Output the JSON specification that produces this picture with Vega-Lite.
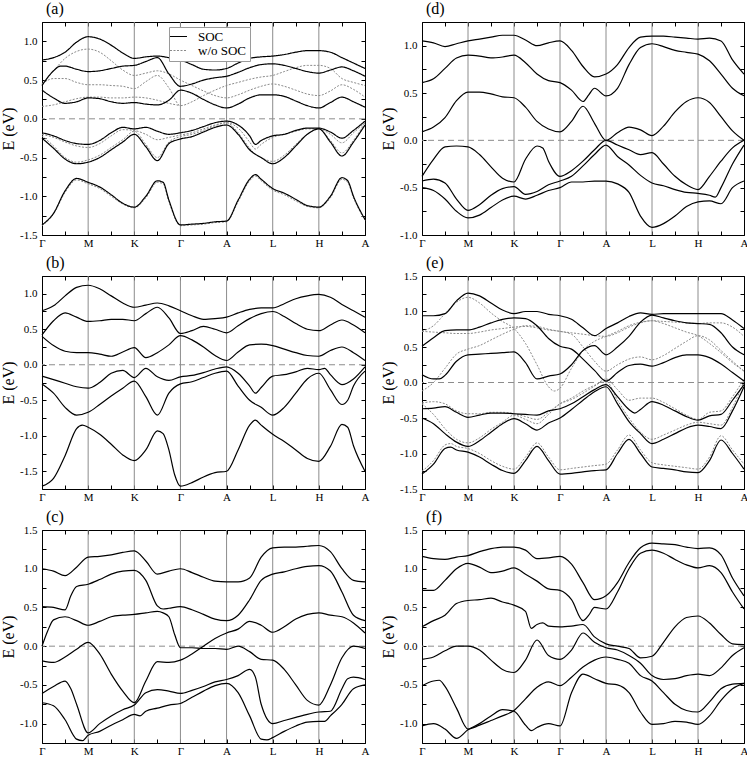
{
"$schema":"https://vega.github.io/schema/vega-lite/v6.json",
"background":"white",
"padding":{"left":0,"top":0,"right":0,"bottom":0},
"config":{
 "font":"Liberation Serif",
 "view":{"stroke":"black","strokeWidth":1},
 "axis":{"domain":false,"grid":false,"tickColor":"black","tickSize":-4,"tickWidth":1,"labelFont":"Liberation Serif","labelFontSize":11,"labelColor":"black","labelPadding":9,"labelOverlap":false,"labelFlush":false,"titleFont":"Liberation Serif","titleFontSize":16,"titleFontWeight":"normal","titleColor":"black","titlePadding":3},
 "axisX":{"labelPadding":6},
 "title":{"font":"Liberation Serif","fontSize":16,"fontWeight":"normal","color":"black","anchor":"start","frame":"group","offset":-1,"dx":4},
 "line":{"clip":true}
},
"datasets":{
 "sym":[{"k":1},{"k":2},{"k":3},{"k":4},{"k":5},{"k":6}],
 "bands":[
{"p":"a","b":"a1","s":"SOC","k":0,"E":0.76},{"p":"a","b":"a1","s":"SOC","k":0.25,"E":0.79},{"p":"a","b":"a1","s":"SOC","k":0.5,"E":0.86},{"p":"a","b":"a1","s":"SOC","k":0.75,"E":0.99},{"p":"a","b":"a1","s":"SOC","k":1,"E":1.06},{"p":"a","b":"a1","s":"SOC","k":1.25,"E":1.03},{"p":"a","b":"a1","s":"SOC","k":1.5,"E":0.95},{"p":"a","b":"a1","s":"SOC","k":1.75,"E":0.85},{"p":"a","b":"a1","s":"SOC","k":2,"E":0.78},{"p":"a","b":"a1","s":"SOC","k":2.25,"E":0.8},{"p":"a","b":"a1","s":"SOC","k":2.5,"E":0.81},{"p":"a","b":"a1","s":"SOC","k":2.75,"E":0.79},{"p":"a","b":"a1","s":"SOC","k":3,"E":0.76},{"p":"a","b":"a1","s":"SOC","k":3.25,"E":0.7},{"p":"a","b":"a1","s":"SOC","k":3.5,"E":0.64},{"p":"a","b":"a1","s":"SOC","k":3.75,"E":0.63},{"p":"a","b":"a1","s":"SOC","k":4,"E":0.65},{"p":"a","b":"a1","s":"SOC","k":4.25,"E":0.72},{"p":"a","b":"a1","s":"SOC","k":4.5,"E":0.78},{"p":"a","b":"a1","s":"SOC","k":4.75,"E":0.8},{"p":"a","b":"a1","s":"SOC","k":5,"E":0.81},{"p":"a","b":"a1","s":"SOC","k":5.25,"E":0.83},{"p":"a","b":"a1","s":"SOC","k":5.5,"E":0.86},{"p":"a","b":"a1","s":"SOC","k":5.75,"E":0.88},{"p":"a","b":"a1","s":"SOC","k":6,"E":0.88},{"p":"a","b":"a1","s":"SOC","k":6.25,"E":0.86},{"p":"a","b":"a1","s":"SOC","k":6.5,"E":0.79},{"p":"a","b":"a1","s":"SOC","k":6.75,"E":0.72},{"p":"a","b":"a1","s":"SOC","k":7,"E":0.65},
{"p":"a","b":"a2","s":"SOC","k":0,"E":0.43},{"p":"a","b":"a2","s":"SOC","k":0.25,"E":0.62},{"p":"a","b":"a2","s":"SOC","k":0.4,"E":0.68},{"p":"a","b":"a2","s":"SOC","k":0.5,"E":0.68},{"p":"a","b":"a2","s":"SOC","k":0.75,"E":0.64},{"p":"a","b":"a2","s":"SOC","k":1,"E":0.61},{"p":"a","b":"a2","s":"SOC","k":1.25,"E":0.62},{"p":"a","b":"a2","s":"SOC","k":1.5,"E":0.65},{"p":"a","b":"a2","s":"SOC","k":1.75,"E":0.68},{"p":"a","b":"a2","s":"SOC","k":2,"E":0.69},{"p":"a","b":"a2","s":"SOC","k":2.25,"E":0.74},{"p":"a","b":"a2","s":"SOC","k":2.5,"E":0.79},{"p":"a","b":"a2","s":"SOC","k":2.75,"E":0.58},{"p":"a","b":"a2","s":"SOC","k":3,"E":0.42},{"p":"a","b":"a2","s":"SOC","k":3.25,"E":0.45},{"p":"a","b":"a2","s":"SOC","k":3.5,"E":0.5},{"p":"a","b":"a2","s":"SOC","k":3.75,"E":0.53},{"p":"a","b":"a2","s":"SOC","k":4,"E":0.55},{"p":"a","b":"a2","s":"SOC","k":4.25,"E":0.6},{"p":"a","b":"a2","s":"SOC","k":4.5,"E":0.66},{"p":"a","b":"a2","s":"SOC","k":4.75,"E":0.7},{"p":"a","b":"a2","s":"SOC","k":5,"E":0.71},{"p":"a","b":"a2","s":"SOC","k":5.25,"E":0.69},{"p":"a","b":"a2","s":"SOC","k":5.5,"E":0.65},{"p":"a","b":"a2","s":"SOC","k":5.75,"E":0.61},{"p":"a","b":"a2","s":"SOC","k":6,"E":0.59},{"p":"a","b":"a2","s":"SOC","k":6.25,"E":0.63},{"p":"a","b":"a2","s":"SOC","k":6.5,"E":0.67},{"p":"a","b":"a2","s":"SOC","k":6.75,"E":0.62},{"p":"a","b":"a2","s":"SOC","k":7,"E":0.55},
{"p":"a","b":"a3","s":"SOC","k":0,"E":0.37},{"p":"a","b":"a3","s":"SOC","k":0.25,"E":0.27},{"p":"a","b":"a3","s":"SOC","k":0.5,"E":0.2},{"p":"a","b":"a3","s":"SOC","k":0.75,"E":0.22},{"p":"a","b":"a3","s":"SOC","k":1,"E":0.27},{"p":"a","b":"a3","s":"SOC","k":1.25,"E":0.26},{"p":"a","b":"a3","s":"SOC","k":1.5,"E":0.22},{"p":"a","b":"a3","s":"SOC","k":1.75,"E":0.2},{"p":"a","b":"a3","s":"SOC","k":2,"E":0.21},{"p":"a","b":"a3","s":"SOC","k":2.25,"E":0.19},{"p":"a","b":"a3","s":"SOC","k":2.5,"E":0.18},{"p":"a","b":"a3","s":"SOC","k":2.75,"E":0.24},{"p":"a","b":"a3","s":"SOC","k":3,"E":0.37},{"p":"a","b":"a3","s":"SOC","k":3.25,"E":0.33},{"p":"a","b":"a3","s":"SOC","k":3.5,"E":0.25},{"p":"a","b":"a3","s":"SOC","k":3.75,"E":0.18},{"p":"a","b":"a3","s":"SOC","k":4,"E":0.14},{"p":"a","b":"a3","s":"SOC","k":4.25,"E":0.19},{"p":"a","b":"a3","s":"SOC","k":4.5,"E":0.27},{"p":"a","b":"a3","s":"SOC","k":4.75,"E":0.31},{"p":"a","b":"a3","s":"SOC","k":5,"E":0.31},{"p":"a","b":"a3","s":"SOC","k":5.25,"E":0.29},{"p":"a","b":"a3","s":"SOC","k":5.5,"E":0.23},{"p":"a","b":"a3","s":"SOC","k":5.75,"E":0.17},{"p":"a","b":"a3","s":"SOC","k":6,"E":0.14},{"p":"a","b":"a3","s":"SOC","k":6.25,"E":0.21},{"p":"a","b":"a3","s":"SOC","k":6.5,"E":0.28},{"p":"a","b":"a3","s":"SOC","k":6.75,"E":0.22},{"p":"a","b":"a3","s":"SOC","k":7,"E":0.15},
{"p":"a","b":"a4","s":"SOC","k":0,"E":-0.18},{"p":"a","b":"a4","s":"SOC","k":0.25,"E":-0.22},{"p":"a","b":"a4","s":"SOC","k":0.5,"E":-0.28},{"p":"a","b":"a4","s":"SOC","k":0.75,"E":-0.32},{"p":"a","b":"a4","s":"SOC","k":1,"E":-0.33},{"p":"a","b":"a4","s":"SOC","k":1.25,"E":-0.28},{"p":"a","b":"a4","s":"SOC","k":1.5,"E":-0.18},{"p":"a","b":"a4","s":"SOC","k":1.75,"E":-0.11},{"p":"a","b":"a4","s":"SOC","k":2,"E":-0.13},{"p":"a","b":"a4","s":"SOC","k":2.25,"E":-0.11},{"p":"a","b":"a4","s":"SOC","k":2.5,"E":-0.16},{"p":"a","b":"a4","s":"SOC","k":2.75,"E":-0.2},{"p":"a","b":"a4","s":"SOC","k":3,"E":-0.18},{"p":"a","b":"a4","s":"SOC","k":3.25,"E":-0.15},{"p":"a","b":"a4","s":"SOC","k":3.5,"E":-0.1},{"p":"a","b":"a4","s":"SOC","k":3.75,"E":-0.05},{"p":"a","b":"a4","s":"SOC","k":4,"E":-0.03},{"p":"a","b":"a4","s":"SOC","k":4.25,"E":-0.08},{"p":"a","b":"a4","s":"SOC","k":4.5,"E":-0.22},{"p":"a","b":"a4","s":"SOC","k":4.625,"E":-0.33},{"p":"a","b":"a4","s":"SOC","k":4.75,"E":-0.28},{"p":"a","b":"a4","s":"SOC","k":5,"E":-0.22},{"p":"a","b":"a4","s":"SOC","k":5.25,"E":-0.2},{"p":"a","b":"a4","s":"SOC","k":5.5,"E":-0.15},{"p":"a","b":"a4","s":"SOC","k":5.75,"E":-0.12},{"p":"a","b":"a4","s":"SOC","k":6,"E":-0.12},{"p":"a","b":"a4","s":"SOC","k":6.25,"E":-0.17},{"p":"a","b":"a4","s":"SOC","k":6.5,"E":-0.25},{"p":"a","b":"a4","s":"SOC","k":6.75,"E":-0.15},{"p":"a","b":"a4","s":"SOC","k":7,"E":-0.03},
{"p":"a","b":"a5","s":"SOC","k":0,"E":-0.25},{"p":"a","b":"a5","s":"SOC","k":0.25,"E":-0.38},{"p":"a","b":"a5","s":"SOC","k":0.5,"E":-0.52},{"p":"a","b":"a5","s":"SOC","k":0.75,"E":-0.58},{"p":"a","b":"a5","s":"SOC","k":1,"E":-0.56},{"p":"a","b":"a5","s":"SOC","k":1.25,"E":-0.5},{"p":"a","b":"a5","s":"SOC","k":1.5,"E":-0.4},{"p":"a","b":"a5","s":"SOC","k":1.75,"E":-0.3},{"p":"a","b":"a5","s":"SOC","k":2,"E":-0.2},{"p":"a","b":"a5","s":"SOC","k":2.25,"E":-0.36},{"p":"a","b":"a5","s":"SOC","k":2.5,"E":-0.54},{"p":"a","b":"a5","s":"SOC","k":2.75,"E":-0.32},{"p":"a","b":"a5","s":"SOC","k":3,"E":-0.26},{"p":"a","b":"a5","s":"SOC","k":3.25,"E":-0.23},{"p":"a","b":"a5","s":"SOC","k":3.5,"E":-0.17},{"p":"a","b":"a5","s":"SOC","k":3.75,"E":-0.11},{"p":"a","b":"a5","s":"SOC","k":4,"E":-0.08},{"p":"a","b":"a5","s":"SOC","k":4.25,"E":-0.2},{"p":"a","b":"a5","s":"SOC","k":4.5,"E":-0.4},{"p":"a","b":"a5","s":"SOC","k":4.75,"E":-0.5},{"p":"a","b":"a5","s":"SOC","k":5,"E":-0.58},{"p":"a","b":"a5","s":"SOC","k":5.25,"E":-0.5},{"p":"a","b":"a5","s":"SOC","k":5.5,"E":-0.35},{"p":"a","b":"a5","s":"SOC","k":5.75,"E":-0.2},{"p":"a","b":"a5","s":"SOC","k":6,"E":-0.13},{"p":"a","b":"a5","s":"SOC","k":6.25,"E":-0.3},{"p":"a","b":"a5","s":"SOC","k":6.5,"E":-0.48},{"p":"a","b":"a5","s":"SOC","k":6.75,"E":-0.3},{"p":"a","b":"a5","s":"SOC","k":7,"E":-0.08},
{"p":"a","b":"a6","s":"SOC","k":0,"E":-1.37},{"p":"a","b":"a6","s":"SOC","k":0.25,"E":-1.22},{"p":"a","b":"a6","s":"SOC","k":0.5,"E":-0.93},{"p":"a","b":"a6","s":"SOC","k":0.75,"E":-0.77},{"p":"a","b":"a6","s":"SOC","k":1,"E":-0.82},{"p":"a","b":"a6","s":"SOC","k":1.25,"E":-0.88},{"p":"a","b":"a6","s":"SOC","k":1.5,"E":-0.98},{"p":"a","b":"a6","s":"SOC","k":1.75,"E":-1.09},{"p":"a","b":"a6","s":"SOC","k":2,"E":-1.14},{"p":"a","b":"a6","s":"SOC","k":2.25,"E":-1.0},{"p":"a","b":"a6","s":"SOC","k":2.5,"E":-0.8},{"p":"a","b":"a6","s":"SOC","k":2.625,"E":-0.82},{"p":"a","b":"a6","s":"SOC","k":2.75,"E":-1.05},{"p":"a","b":"a6","s":"SOC","k":3,"E":-1.37},{"p":"a","b":"a6","s":"SOC","k":3.25,"E":-1.36},{"p":"a","b":"a6","s":"SOC","k":3.5,"E":-1.35},{"p":"a","b":"a6","s":"SOC","k":3.75,"E":-1.33},{"p":"a","b":"a6","s":"SOC","k":4,"E":-1.32},{"p":"a","b":"a6","s":"SOC","k":4.25,"E":-1.05},{"p":"a","b":"a6","s":"SOC","k":4.5,"E":-0.78},{"p":"a","b":"a6","s":"SOC","k":4.625,"E":-0.72},{"p":"a","b":"a6","s":"SOC","k":4.75,"E":-0.78},{"p":"a","b":"a6","s":"SOC","k":5,"E":-0.9},{"p":"a","b":"a6","s":"SOC","k":5.25,"E":-0.96},{"p":"a","b":"a6","s":"SOC","k":5.5,"E":-1.04},{"p":"a","b":"a6","s":"SOC","k":5.75,"E":-1.12},{"p":"a","b":"a6","s":"SOC","k":6,"E":-1.14},{"p":"a","b":"a6","s":"SOC","k":6.25,"E":-1.0},{"p":"a","b":"a6","s":"SOC","k":6.5,"E":-0.76},{"p":"a","b":"a6","s":"SOC","k":6.625,"E":-0.8},{"p":"a","b":"a6","s":"SOC","k":6.75,"E":-1.0},{"p":"a","b":"a6","s":"SOC","k":7,"E":-1.3},
{"p":"a","b":"ad1","s":"w/o SOC","k":0,"E":0.45},{"p":"a","b":"ad1","s":"w/o SOC","k":0.25,"E":0.62},{"p":"a","b":"ad1","s":"w/o SOC","k":0.5,"E":0.78},{"p":"a","b":"ad1","s":"w/o SOC","k":0.75,"E":0.87},{"p":"a","b":"ad1","s":"w/o SOC","k":1,"E":0.9},{"p":"a","b":"ad1","s":"w/o SOC","k":1.25,"E":0.86},{"p":"a","b":"ad1","s":"w/o SOC","k":1.5,"E":0.75},{"p":"a","b":"ad1","s":"w/o SOC","k":1.75,"E":0.63},{"p":"a","b":"ad1","s":"w/o SOC","k":2,"E":0.56},{"p":"a","b":"ad1","s":"w/o SOC","k":2.25,"E":0.59},{"p":"a","b":"ad1","s":"w/o SOC","k":2.5,"E":0.62},{"p":"a","b":"ad1","s":"w/o SOC","k":2.75,"E":0.58},{"p":"a","b":"ad1","s":"w/o SOC","k":3,"E":0.5},{"p":"a","b":"ad1","s":"w/o SOC","k":3.25,"E":0.43},{"p":"a","b":"ad1","s":"w/o SOC","k":3.5,"E":0.36},{"p":"a","b":"ad1","s":"w/o SOC","k":3.75,"E":0.3},{"p":"a","b":"ad1","s":"w/o SOC","k":4,"E":0.27},{"p":"a","b":"ad1","s":"w/o SOC","k":4.25,"E":0.31},{"p":"a","b":"ad1","s":"w/o SOC","k":4.5,"E":0.37},{"p":"a","b":"ad1","s":"w/o SOC","k":4.75,"E":0.42},{"p":"a","b":"ad1","s":"w/o SOC","k":5,"E":0.45},{"p":"a","b":"ad1","s":"w/o SOC","k":5.25,"E":0.42},{"p":"a","b":"ad1","s":"w/o SOC","k":5.5,"E":0.37},{"p":"a","b":"ad1","s":"w/o SOC","k":5.75,"E":0.32},{"p":"a","b":"ad1","s":"w/o SOC","k":6,"E":0.3},{"p":"a","b":"ad1","s":"w/o SOC","k":6.25,"E":0.36},{"p":"a","b":"ad1","s":"w/o SOC","k":6.5,"E":0.44},{"p":"a","b":"ad1","s":"w/o SOC","k":6.75,"E":0.38},{"p":"a","b":"ad1","s":"w/o SOC","k":7,"E":0.28},
{"p":"a","b":"ad2","s":"w/o SOC","k":0,"E":0.45},{"p":"a","b":"ad2","s":"w/o SOC","k":0.25,"E":0.52},{"p":"a","b":"ad2","s":"w/o SOC","k":0.5,"E":0.52},{"p":"a","b":"ad2","s":"w/o SOC","k":0.75,"E":0.47},{"p":"a","b":"ad2","s":"w/o SOC","k":1,"E":0.44},{"p":"a","b":"ad2","s":"w/o SOC","k":1.25,"E":0.44},{"p":"a","b":"ad2","s":"w/o SOC","k":1.5,"E":0.43},{"p":"a","b":"ad2","s":"w/o SOC","k":1.75,"E":0.42},{"p":"a","b":"ad2","s":"w/o SOC","k":2,"E":0.39},{"p":"a","b":"ad2","s":"w/o SOC","k":2.25,"E":0.48},{"p":"a","b":"ad2","s":"w/o SOC","k":2.5,"E":0.56},{"p":"a","b":"ad2","s":"w/o SOC","k":2.75,"E":0.4},{"p":"a","b":"ad2","s":"w/o SOC","k":3,"E":0.17},{"p":"a","b":"ad2","s":"w/o SOC","k":3.25,"E":0.22},{"p":"a","b":"ad2","s":"w/o SOC","k":3.5,"E":0.3},{"p":"a","b":"ad2","s":"w/o SOC","k":3.75,"E":0.37},{"p":"a","b":"ad2","s":"w/o SOC","k":4,"E":0.43},{"p":"a","b":"ad2","s":"w/o SOC","k":4.25,"E":0.47},{"p":"a","b":"ad2","s":"w/o SOC","k":4.5,"E":0.51},{"p":"a","b":"ad2","s":"w/o SOC","k":4.75,"E":0.54},{"p":"a","b":"ad2","s":"w/o SOC","k":5,"E":0.56},{"p":"a","b":"ad2","s":"w/o SOC","k":5.25,"E":0.61},{"p":"a","b":"ad2","s":"w/o SOC","k":5.5,"E":0.66},{"p":"a","b":"ad2","s":"w/o SOC","k":5.75,"E":0.69},{"p":"a","b":"ad2","s":"w/o SOC","k":6,"E":0.69},{"p":"a","b":"ad2","s":"w/o SOC","k":6.25,"E":0.65},{"p":"a","b":"ad2","s":"w/o SOC","k":6.5,"E":0.52},{"p":"a","b":"ad2","s":"w/o SOC","k":6.75,"E":0.47},{"p":"a","b":"ad2","s":"w/o SOC","k":7,"E":0.43},
{"p":"a","b":"ad3","s":"w/o SOC","k":0,"E":0.16},{"p":"a","b":"ad3","s":"w/o SOC","k":0.25,"E":0.18},{"p":"a","b":"ad3","s":"w/o SOC","k":0.5,"E":0.22},{"p":"a","b":"ad3","s":"w/o SOC","k":0.75,"E":0.26},{"p":"a","b":"ad3","s":"w/o SOC","k":1,"E":0.28},{"p":"a","b":"ad3","s":"w/o SOC","k":1.25,"E":0.28},{"p":"a","b":"ad3","s":"w/o SOC","k":1.5,"E":0.27},{"p":"a","b":"ad3","s":"w/o SOC","k":1.75,"E":0.27},{"p":"a","b":"ad3","s":"w/o SOC","k":2,"E":0.28},{"p":"a","b":"ad3","s":"w/o SOC","k":2.25,"E":0.27},{"p":"a","b":"ad3","s":"w/o SOC","k":2.5,"E":0.24},{"p":"a","b":"ad3","s":"w/o SOC","k":2.75,"E":0.2},{"p":"a","b":"ad3","s":"w/o SOC","k":3,"E":0.17},
{"p":"a","b":"ad4","s":"w/o SOC","k":0,"E":-0.2},{"p":"a","b":"ad4","s":"w/o SOC","k":0.25,"E":-0.24},{"p":"a","b":"ad4","s":"w/o SOC","k":0.5,"E":-0.3},{"p":"a","b":"ad4","s":"w/o SOC","k":0.75,"E":-0.35},{"p":"a","b":"ad4","s":"w/o SOC","k":1,"E":-0.37},{"p":"a","b":"ad4","s":"w/o SOC","k":1.25,"E":-0.32},{"p":"a","b":"ad4","s":"w/o SOC","k":1.5,"E":-0.22},{"p":"a","b":"ad4","s":"w/o SOC","k":1.75,"E":-0.14},{"p":"a","b":"ad4","s":"w/o SOC","k":2,"E":-0.15},{"p":"a","b":"ad4","s":"w/o SOC","k":2.25,"E":-0.2},{"p":"a","b":"ad4","s":"w/o SOC","k":2.5,"E":-0.27},{"p":"a","b":"ad4","s":"w/o SOC","k":2.75,"E":-0.24},{"p":"a","b":"ad4","s":"w/o SOC","k":3,"E":-0.21},{"p":"a","b":"ad4","s":"w/o SOC","k":3.25,"E":-0.18},{"p":"a","b":"ad4","s":"w/o SOC","k":3.5,"E":-0.13},{"p":"a","b":"ad4","s":"w/o SOC","k":3.75,"E":-0.08},{"p":"a","b":"ad4","s":"w/o SOC","k":4,"E":-0.05},{"p":"a","b":"ad4","s":"w/o SOC","k":4.25,"E":-0.12},{"p":"a","b":"ad4","s":"w/o SOC","k":4.5,"E":-0.3},{"p":"a","b":"ad4","s":"w/o SOC","k":4.625,"E":-0.39},{"p":"a","b":"ad4","s":"w/o SOC","k":4.75,"E":-0.33},{"p":"a","b":"ad4","s":"w/o SOC","k":5,"E":-0.24},{"p":"a","b":"ad4","s":"w/o SOC","k":5.25,"E":-0.2},{"p":"a","b":"ad4","s":"w/o SOC","k":5.5,"E":-0.16},{"p":"a","b":"ad4","s":"w/o SOC","k":5.75,"E":-0.13},{"p":"a","b":"ad4","s":"w/o SOC","k":6,"E":-0.13},{"p":"a","b":"ad4","s":"w/o SOC","k":6.25,"E":-0.2},{"p":"a","b":"ad4","s":"w/o SOC","k":6.5,"E":-0.31},{"p":"a","b":"ad4","s":"w/o SOC","k":6.75,"E":-0.18},{"p":"a","b":"ad4","s":"w/o SOC","k":7,"E":-0.05},
{"p":"a","b":"ad5","s":"w/o SOC","k":0,"E":-0.22},{"p":"a","b":"ad5","s":"w/o SOC","k":0.25,"E":-0.35},{"p":"a","b":"ad5","s":"w/o SOC","k":0.5,"E":-0.5},{"p":"a","b":"ad5","s":"w/o SOC","k":0.75,"E":-0.56},{"p":"a","b":"ad5","s":"w/o SOC","k":1,"E":-0.53},{"p":"a","b":"ad5","s":"w/o SOC","k":1.25,"E":-0.47},{"p":"a","b":"ad5","s":"w/o SOC","k":1.5,"E":-0.37},{"p":"a","b":"ad5","s":"w/o SOC","k":1.75,"E":-0.27},{"p":"a","b":"ad5","s":"w/o SOC","k":2,"E":-0.16},{"p":"a","b":"ad5","s":"w/o SOC","k":2.25,"E":-0.33},{"p":"a","b":"ad5","s":"w/o SOC","k":2.5,"E":-0.5},{"p":"a","b":"ad5","s":"w/o SOC","k":2.75,"E":-0.3},{"p":"a","b":"ad5","s":"w/o SOC","k":3,"E":-0.23},{"p":"a","b":"ad5","s":"w/o SOC","k":3.25,"E":-0.2},{"p":"a","b":"ad5","s":"w/o SOC","k":3.5,"E":-0.15},{"p":"a","b":"ad5","s":"w/o SOC","k":3.75,"E":-0.09},{"p":"a","b":"ad5","s":"w/o SOC","k":4,"E":-0.05},{"p":"a","b":"ad5","s":"w/o SOC","k":4.25,"E":-0.18},{"p":"a","b":"ad5","s":"w/o SOC","k":4.5,"E":-0.38},{"p":"a","b":"ad5","s":"w/o SOC","k":4.625,"E":-0.46},{"p":"a","b":"ad5","s":"w/o SOC","k":4.75,"E":-0.5},{"p":"a","b":"ad5","s":"w/o SOC","k":5,"E":-0.55},{"p":"a","b":"ad5","s":"w/o SOC","k":5.25,"E":-0.47},{"p":"a","b":"ad5","s":"w/o SOC","k":5.5,"E":-0.33},{"p":"a","b":"ad5","s":"w/o SOC","k":5.75,"E":-0.2},{"p":"a","b":"ad5","s":"w/o SOC","k":6,"E":-0.13},{"p":"a","b":"ad5","s":"w/o SOC","k":6.25,"E":-0.28},{"p":"a","b":"ad5","s":"w/o SOC","k":6.5,"E":-0.44},{"p":"a","b":"ad5","s":"w/o SOC","k":6.75,"E":-0.28},{"p":"a","b":"ad5","s":"w/o SOC","k":7,"E":-0.05},
{"p":"a","b":"ad6","s":"w/o SOC","k":0,"E":-1.38},{"p":"a","b":"ad6","s":"w/o SOC","k":0.25,"E":-1.23},{"p":"a","b":"ad6","s":"w/o SOC","k":0.5,"E":-0.95},{"p":"a","b":"ad6","s":"w/o SOC","k":0.75,"E":-0.79},{"p":"a","b":"ad6","s":"w/o SOC","k":1,"E":-0.84},{"p":"a","b":"ad6","s":"w/o SOC","k":1.25,"E":-0.9},{"p":"a","b":"ad6","s":"w/o SOC","k":1.5,"E":-1.0},{"p":"a","b":"ad6","s":"w/o SOC","k":1.75,"E":-1.1},{"p":"a","b":"ad6","s":"w/o SOC","k":2,"E":-1.15},{"p":"a","b":"ad6","s":"w/o SOC","k":2.25,"E":-1.02},{"p":"a","b":"ad6","s":"w/o SOC","k":2.5,"E":-0.82},{"p":"a","b":"ad6","s":"w/o SOC","k":2.625,"E":-0.84},{"p":"a","b":"ad6","s":"w/o SOC","k":2.75,"E":-1.07},{"p":"a","b":"ad6","s":"w/o SOC","k":3,"E":-1.38},{"p":"a","b":"ad6","s":"w/o SOC","k":3.25,"E":-1.37},{"p":"a","b":"ad6","s":"w/o SOC","k":3.5,"E":-1.36},{"p":"a","b":"ad6","s":"w/o SOC","k":3.75,"E":-1.34},{"p":"a","b":"ad6","s":"w/o SOC","k":4,"E":-1.33},{"p":"a","b":"ad6","s":"w/o SOC","k":4.25,"E":-1.07},{"p":"a","b":"ad6","s":"w/o SOC","k":4.5,"E":-0.8},{"p":"a","b":"ad6","s":"w/o SOC","k":4.625,"E":-0.74},{"p":"a","b":"ad6","s":"w/o SOC","k":4.75,"E":-0.8},{"p":"a","b":"ad6","s":"w/o SOC","k":5,"E":-0.92},{"p":"a","b":"ad6","s":"w/o SOC","k":5.25,"E":-0.98},{"p":"a","b":"ad6","s":"w/o SOC","k":5.5,"E":-1.06},{"p":"a","b":"ad6","s":"w/o SOC","k":5.75,"E":-1.13},{"p":"a","b":"ad6","s":"w/o SOC","k":6,"E":-1.15},{"p":"a","b":"ad6","s":"w/o SOC","k":6.25,"E":-1.02},{"p":"a","b":"ad6","s":"w/o SOC","k":6.5,"E":-0.78},{"p":"a","b":"ad6","s":"w/o SOC","k":6.625,"E":-0.82},{"p":"a","b":"ad6","s":"w/o SOC","k":6.75,"E":-1.02},{"p":"a","b":"ad6","s":"w/o SOC","k":7,"E":-1.31},
{"p":"b","b":"b1","s":"SOC","k":0,"E":0.76},{"p":"b","b":"b1","s":"SOC","k":0.25,"E":0.83},{"p":"b","b":"b1","s":"SOC","k":0.5,"E":0.97},{"p":"b","b":"b1","s":"SOC","k":0.75,"E":1.09},{"p":"b","b":"b1","s":"SOC","k":1,"E":1.12},{"p":"b","b":"b1","s":"SOC","k":1.25,"E":1.07},{"p":"b","b":"b1","s":"SOC","k":1.5,"E":0.97},{"p":"b","b":"b1","s":"SOC","k":1.75,"E":0.87},{"p":"b","b":"b1","s":"SOC","k":2,"E":0.81},{"p":"b","b":"b1","s":"SOC","k":2.25,"E":0.84},{"p":"b","b":"b1","s":"SOC","k":2.5,"E":0.87},{"p":"b","b":"b1","s":"SOC","k":2.75,"E":0.83},{"p":"b","b":"b1","s":"SOC","k":3,"E":0.76},{"p":"b","b":"b1","s":"SOC","k":3.25,"E":0.69},{"p":"b","b":"b1","s":"SOC","k":3.5,"E":0.64},{"p":"b","b":"b1","s":"SOC","k":3.75,"E":0.65},{"p":"b","b":"b1","s":"SOC","k":4,"E":0.67},{"p":"b","b":"b1","s":"SOC","k":4.25,"E":0.73},{"p":"b","b":"b1","s":"SOC","k":4.5,"E":0.78},{"p":"b","b":"b1","s":"SOC","k":4.75,"E":0.8},{"p":"b","b":"b1","s":"SOC","k":5,"E":0.8},{"p":"b","b":"b1","s":"SOC","k":5.25,"E":0.86},{"p":"b","b":"b1","s":"SOC","k":5.5,"E":0.93},{"p":"b","b":"b1","s":"SOC","k":5.75,"E":0.97},{"p":"b","b":"b1","s":"SOC","k":6,"E":0.99},{"p":"b","b":"b1","s":"SOC","k":6.25,"E":0.95},{"p":"b","b":"b1","s":"SOC","k":6.5,"E":0.85},{"p":"b","b":"b1","s":"SOC","k":6.75,"E":0.76},{"p":"b","b":"b1","s":"SOC","k":7,"E":0.67},
{"p":"b","b":"b2","s":"SOC","k":0,"E":0.42},{"p":"b","b":"b2","s":"SOC","k":0.25,"E":0.62},{"p":"b","b":"b2","s":"SOC","k":0.5,"E":0.73},{"p":"b","b":"b2","s":"SOC","k":0.75,"E":0.67},{"p":"b","b":"b2","s":"SOC","k":1,"E":0.61},{"p":"b","b":"b2","s":"SOC","k":1.25,"E":0.62},{"p":"b","b":"b2","s":"SOC","k":1.5,"E":0.64},{"p":"b","b":"b2","s":"SOC","k":1.75,"E":0.64},{"p":"b","b":"b2","s":"SOC","k":2,"E":0.62},{"p":"b","b":"b2","s":"SOC","k":2.25,"E":0.72},{"p":"b","b":"b2","s":"SOC","k":2.5,"E":0.81},{"p":"b","b":"b2","s":"SOC","k":2.75,"E":0.66},{"p":"b","b":"b2","s":"SOC","k":3,"E":0.44},{"p":"b","b":"b2","s":"SOC","k":3.25,"E":0.48},{"p":"b","b":"b2","s":"SOC","k":3.5,"E":0.54},{"p":"b","b":"b2","s":"SOC","k":3.75,"E":0.5},{"p":"b","b":"b2","s":"SOC","k":4,"E":0.45},{"p":"b","b":"b2","s":"SOC","k":4.25,"E":0.55},{"p":"b","b":"b2","s":"SOC","k":4.5,"E":0.65},{"p":"b","b":"b2","s":"SOC","k":4.75,"E":0.72},{"p":"b","b":"b2","s":"SOC","k":5,"E":0.75},{"p":"b","b":"b2","s":"SOC","k":5.25,"E":0.68},{"p":"b","b":"b2","s":"SOC","k":5.5,"E":0.58},{"p":"b","b":"b2","s":"SOC","k":5.75,"E":0.5},{"p":"b","b":"b2","s":"SOC","k":6,"E":0.48},{"p":"b","b":"b2","s":"SOC","k":6.25,"E":0.56},{"p":"b","b":"b2","s":"SOC","k":6.5,"E":0.63},{"p":"b","b":"b2","s":"SOC","k":6.75,"E":0.56},{"p":"b","b":"b2","s":"SOC","k":7,"E":0.45},
{"p":"b","b":"b3","s":"SOC","k":0,"E":0.4},{"p":"b","b":"b3","s":"SOC","k":0.25,"E":0.27},{"p":"b","b":"b3","s":"SOC","k":0.5,"E":0.19},{"p":"b","b":"b3","s":"SOC","k":0.75,"E":0.17},{"p":"b","b":"b3","s":"SOC","k":1,"E":0.17},{"p":"b","b":"b3","s":"SOC","k":1.25,"E":0.15},{"p":"b","b":"b3","s":"SOC","k":1.5,"E":0.12},{"p":"b","b":"b3","s":"SOC","k":1.75,"E":0.18},{"p":"b","b":"b3","s":"SOC","k":2,"E":0.24},{"p":"b","b":"b3","s":"SOC","k":2.25,"E":0.1},{"p":"b","b":"b3","s":"SOC","k":2.5,"E":0.17},{"p":"b","b":"b3","s":"SOC","k":2.75,"E":0.28},{"p":"b","b":"b3","s":"SOC","k":3,"E":0.41},{"p":"b","b":"b3","s":"SOC","k":3.25,"E":0.35},{"p":"b","b":"b3","s":"SOC","k":3.5,"E":0.25},{"p":"b","b":"b3","s":"SOC","k":3.75,"E":0.13},{"p":"b","b":"b3","s":"SOC","k":4,"E":0.06},{"p":"b","b":"b3","s":"SOC","k":4.25,"E":0.18},{"p":"b","b":"b3","s":"SOC","k":4.5,"E":0.28},{"p":"b","b":"b3","s":"SOC","k":4.75,"E":0.29},{"p":"b","b":"b3","s":"SOC","k":5,"E":0.27},{"p":"b","b":"b3","s":"SOC","k":5.25,"E":0.22},{"p":"b","b":"b3","s":"SOC","k":5.5,"E":0.17},{"p":"b","b":"b3","s":"SOC","k":5.75,"E":0.13},{"p":"b","b":"b3","s":"SOC","k":6,"E":0.12},{"p":"b","b":"b3","s":"SOC","k":6.25,"E":0.2},{"p":"b","b":"b3","s":"SOC","k":6.5,"E":0.25},{"p":"b","b":"b3","s":"SOC","k":6.75,"E":0.17},{"p":"b","b":"b3","s":"SOC","k":7,"E":0.06},
{"p":"b","b":"b4","s":"SOC","k":0,"E":-0.16},{"p":"b","b":"b4","s":"SOC","k":0.25,"E":-0.21},{"p":"b","b":"b4","s":"SOC","k":0.5,"E":-0.26},{"p":"b","b":"b4","s":"SOC","k":0.75,"E":-0.31},{"p":"b","b":"b4","s":"SOC","k":1,"E":-0.33},{"p":"b","b":"b4","s":"SOC","k":1.25,"E":-0.25},{"p":"b","b":"b4","s":"SOC","k":1.5,"E":-0.12},{"p":"b","b":"b4","s":"SOC","k":1.75,"E":-0.08},{"p":"b","b":"b4","s":"SOC","k":2,"E":-0.18},{"p":"b","b":"b4","s":"SOC","k":2.25,"E":-0.05},{"p":"b","b":"b4","s":"SOC","k":2.5,"E":-0.17},{"p":"b","b":"b4","s":"SOC","k":2.75,"E":-0.22},{"p":"b","b":"b4","s":"SOC","k":3,"E":-0.17},{"p":"b","b":"b4","s":"SOC","k":3.25,"E":-0.15},{"p":"b","b":"b4","s":"SOC","k":3.5,"E":-0.11},{"p":"b","b":"b4","s":"SOC","k":3.75,"E":-0.06},{"p":"b","b":"b4","s":"SOC","k":4,"E":-0.03},{"p":"b","b":"b4","s":"SOC","k":4.25,"E":-0.12},{"p":"b","b":"b4","s":"SOC","k":4.5,"E":-0.3},{"p":"b","b":"b4","s":"SOC","k":4.625,"E":-0.4},{"p":"b","b":"b4","s":"SOC","k":4.75,"E":-0.32},{"p":"b","b":"b4","s":"SOC","k":5,"E":-0.16},{"p":"b","b":"b4","s":"SOC","k":5.25,"E":-0.14},{"p":"b","b":"b4","s":"SOC","k":5.5,"E":-0.1},{"p":"b","b":"b4","s":"SOC","k":5.75,"E":-0.05},{"p":"b","b":"b4","s":"SOC","k":6,"E":-0.07},{"p":"b","b":"b4","s":"SOC","k":6.125,"E":-0.05},{"p":"b","b":"b4","s":"SOC","k":6.25,"E":-0.14},{"p":"b","b":"b4","s":"SOC","k":6.5,"E":-0.28},{"p":"b","b":"b4","s":"SOC","k":6.75,"E":-0.2},{"p":"b","b":"b4","s":"SOC","k":7,"E":-0.03},
{"p":"b","b":"b5","s":"SOC","k":0,"E":-0.27},{"p":"b","b":"b5","s":"SOC","k":0.25,"E":-0.4},{"p":"b","b":"b5","s":"SOC","k":0.5,"E":-0.6},{"p":"b","b":"b5","s":"SOC","k":0.75,"E":-0.71},{"p":"b","b":"b5","s":"SOC","k":1,"E":-0.67},{"p":"b","b":"b5","s":"SOC","k":1.25,"E":-0.56},{"p":"b","b":"b5","s":"SOC","k":1.5,"E":-0.44},{"p":"b","b":"b5","s":"SOC","k":1.75,"E":-0.33},{"p":"b","b":"b5","s":"SOC","k":2,"E":-0.23},{"p":"b","b":"b5","s":"SOC","k":2.25,"E":-0.45},{"p":"b","b":"b5","s":"SOC","k":2.5,"E":-0.71},{"p":"b","b":"b5","s":"SOC","k":2.75,"E":-0.4},{"p":"b","b":"b5","s":"SOC","k":3,"E":-0.27},{"p":"b","b":"b5","s":"SOC","k":3.25,"E":-0.24},{"p":"b","b":"b5","s":"SOC","k":3.5,"E":-0.18},{"p":"b","b":"b5","s":"SOC","k":3.75,"E":-0.12},{"p":"b","b":"b5","s":"SOC","k":4,"E":-0.09},{"p":"b","b":"b5","s":"SOC","k":4.25,"E":-0.3},{"p":"b","b":"b5","s":"SOC","k":4.5,"E":-0.5},{"p":"b","b":"b5","s":"SOC","k":4.75,"E":-0.6},{"p":"b","b":"b5","s":"SOC","k":5,"E":-0.71},{"p":"b","b":"b5","s":"SOC","k":5.25,"E":-0.6},{"p":"b","b":"b5","s":"SOC","k":5.5,"E":-0.4},{"p":"b","b":"b5","s":"SOC","k":5.75,"E":-0.2},{"p":"b","b":"b5","s":"SOC","k":6,"E":-0.12},{"p":"b","b":"b5","s":"SOC","k":6.25,"E":-0.35},{"p":"b","b":"b5","s":"SOC","k":6.5,"E":-0.56},{"p":"b","b":"b5","s":"SOC","k":6.625,"E":-0.5},{"p":"b","b":"b5","s":"SOC","k":6.75,"E":-0.3},{"p":"b","b":"b5","s":"SOC","k":7,"E":-0.09},
{"p":"b","b":"b6","s":"SOC","k":0,"E":-1.71},{"p":"b","b":"b6","s":"SOC","k":0.25,"E":-1.6},{"p":"b","b":"b6","s":"SOC","k":0.5,"E":-1.28},{"p":"b","b":"b6","s":"SOC","k":0.75,"E":-0.9},{"p":"b","b":"b6","s":"SOC","k":0.875,"E":-0.85},{"p":"b","b":"b6","s":"SOC","k":1,"E":-0.88},{"p":"b","b":"b6","s":"SOC","k":1.25,"E":-0.98},{"p":"b","b":"b6","s":"SOC","k":1.5,"E":-1.12},{"p":"b","b":"b6","s":"SOC","k":1.75,"E":-1.27},{"p":"b","b":"b6","s":"SOC","k":2,"E":-1.35},{"p":"b","b":"b6","s":"SOC","k":2.25,"E":-1.2},{"p":"b","b":"b6","s":"SOC","k":2.5,"E":-0.93},{"p":"b","b":"b6","s":"SOC","k":2.625,"E":-0.97},{"p":"b","b":"b6","s":"SOC","k":2.75,"E":-1.2},{"p":"b","b":"b6","s":"SOC","k":2.875,"E":-1.55},{"p":"b","b":"b6","s":"SOC","k":3,"E":-1.71},{"p":"b","b":"b6","s":"SOC","k":3.25,"E":-1.66},{"p":"b","b":"b6","s":"SOC","k":3.5,"E":-1.58},{"p":"b","b":"b6","s":"SOC","k":3.75,"E":-1.52},{"p":"b","b":"b6","s":"SOC","k":4,"E":-1.5},{"p":"b","b":"b6","s":"SOC","k":4.25,"E":-1.2},{"p":"b","b":"b6","s":"SOC","k":4.5,"E":-0.85},{"p":"b","b":"b6","s":"SOC","k":4.625,"E":-0.78},{"p":"b","b":"b6","s":"SOC","k":4.75,"E":-0.85},{"p":"b","b":"b6","s":"SOC","k":5,"E":-0.98},{"p":"b","b":"b6","s":"SOC","k":5.25,"E":-1.08},{"p":"b","b":"b6","s":"SOC","k":5.5,"E":-1.2},{"p":"b","b":"b6","s":"SOC","k":5.75,"E":-1.32},{"p":"b","b":"b6","s":"SOC","k":6,"E":-1.36},{"p":"b","b":"b6","s":"SOC","k":6.25,"E":-1.15},{"p":"b","b":"b6","s":"SOC","k":6.5,"E":-0.84},{"p":"b","b":"b6","s":"SOC","k":6.625,"E":-0.88},{"p":"b","b":"b6","s":"SOC","k":6.75,"E":-1.14},{"p":"b","b":"b6","s":"SOC","k":7,"E":-1.5},
{"p":"c","b":"c1","s":"SOC","k":0,"E":1.0},{"p":"c","b":"c1","s":"SOC","k":0.25,"E":0.97},{"p":"c","b":"c1","s":"SOC","k":0.5,"E":0.91},{"p":"c","b":"c1","s":"SOC","k":0.75,"E":1.02},{"p":"c","b":"c1","s":"SOC","k":1,"E":1.15},{"p":"c","b":"c1","s":"SOC","k":1.25,"E":1.16},{"p":"c","b":"c1","s":"SOC","k":1.5,"E":1.18},{"p":"c","b":"c1","s":"SOC","k":1.75,"E":1.21},{"p":"c","b":"c1","s":"SOC","k":2,"E":1.23},{"p":"c","b":"c1","s":"SOC","k":2.25,"E":1.1},{"p":"c","b":"c1","s":"SOC","k":2.5,"E":0.93},{"p":"c","b":"c1","s":"SOC","k":2.75,"E":0.97},{"p":"c","b":"c1","s":"SOC","k":3,"E":1.0},{"p":"c","b":"c1","s":"SOC","k":3.25,"E":0.95},{"p":"c","b":"c1","s":"SOC","k":3.5,"E":0.89},{"p":"c","b":"c1","s":"SOC","k":3.75,"E":0.84},{"p":"c","b":"c1","s":"SOC","k":4,"E":0.83},{"p":"c","b":"c1","s":"SOC","k":4.25,"E":0.83},{"p":"c","b":"c1","s":"SOC","k":4.5,"E":0.88},{"p":"c","b":"c1","s":"SOC","k":4.75,"E":1.15},{"p":"c","b":"c1","s":"SOC","k":5,"E":1.27},{"p":"c","b":"c1","s":"SOC","k":5.25,"E":1.28},{"p":"c","b":"c1","s":"SOC","k":5.5,"E":1.28},{"p":"c","b":"c1","s":"SOC","k":5.75,"E":1.29},{"p":"c","b":"c1","s":"SOC","k":6,"E":1.3},{"p":"c","b":"c1","s":"SOC","k":6.25,"E":1.22},{"p":"c","b":"c1","s":"SOC","k":6.5,"E":1.0},{"p":"c","b":"c1","s":"SOC","k":6.75,"E":0.85},{"p":"c","b":"c1","s":"SOC","k":7,"E":0.83},
{"p":"c","b":"c2","s":"SOC","k":0,"E":0.51},{"p":"c","b":"c2","s":"SOC","k":0.25,"E":0.5},{"p":"c","b":"c2","s":"SOC","k":0.5,"E":0.47},{"p":"c","b":"c2","s":"SOC","k":0.625,"E":0.65},{"p":"c","b":"c2","s":"SOC","k":0.75,"E":0.77},{"p":"c","b":"c2","s":"SOC","k":1,"E":0.8},{"p":"c","b":"c2","s":"SOC","k":1.25,"E":0.86},{"p":"c","b":"c2","s":"SOC","k":1.5,"E":0.93},{"p":"c","b":"c2","s":"SOC","k":1.75,"E":0.97},{"p":"c","b":"c2","s":"SOC","k":2,"E":0.98},{"p":"c","b":"c2","s":"SOC","k":2.25,"E":0.85},{"p":"c","b":"c2","s":"SOC","k":2.5,"E":0.52},{"p":"c","b":"c2","s":"SOC","k":2.625,"E":0.48},{"p":"c","b":"c2","s":"SOC","k":2.75,"E":0.49},{"p":"c","b":"c2","s":"SOC","k":3,"E":0.51},{"p":"c","b":"c2","s":"SOC","k":3.25,"E":0.47},{"p":"c","b":"c2","s":"SOC","k":3.5,"E":0.41},{"p":"c","b":"c2","s":"SOC","k":3.75,"E":0.35},{"p":"c","b":"c2","s":"SOC","k":4,"E":0.33},{"p":"c","b":"c2","s":"SOC","k":4.25,"E":0.4},{"p":"c","b":"c2","s":"SOC","k":4.5,"E":0.6},{"p":"c","b":"c2","s":"SOC","k":4.75,"E":0.85},{"p":"c","b":"c2","s":"SOC","k":5,"E":0.93},{"p":"c","b":"c2","s":"SOC","k":5.25,"E":0.96},{"p":"c","b":"c2","s":"SOC","k":5.5,"E":1.0},{"p":"c","b":"c2","s":"SOC","k":5.75,"E":1.03},{"p":"c","b":"c2","s":"SOC","k":6,"E":1.04},{"p":"c","b":"c2","s":"SOC","k":6.25,"E":0.97},{"p":"c","b":"c2","s":"SOC","k":6.5,"E":0.7},{"p":"c","b":"c2","s":"SOC","k":6.75,"E":0.4},{"p":"c","b":"c2","s":"SOC","k":7,"E":0.33},
{"p":"c","b":"c3","s":"SOC","k":0,"E":0.0},{"p":"c","b":"c3","s":"SOC","k":0.125,"E":0.2},{"p":"c","b":"c3","s":"SOC","k":0.25,"E":0.34},{"p":"c","b":"c3","s":"SOC","k":0.5,"E":0.38},{"p":"c","b":"c3","s":"SOC","k":0.75,"E":0.33},{"p":"c","b":"c3","s":"SOC","k":1,"E":0.27},{"p":"c","b":"c3","s":"SOC","k":1.25,"E":0.32},{"p":"c","b":"c3","s":"SOC","k":1.5,"E":0.38},{"p":"c","b":"c3","s":"SOC","k":1.75,"E":0.4},{"p":"c","b":"c3","s":"SOC","k":2,"E":0.41},{"p":"c","b":"c3","s":"SOC","k":2.25,"E":0.43},{"p":"c","b":"c3","s":"SOC","k":2.5,"E":0.45},{"p":"c","b":"c3","s":"SOC","k":2.625,"E":0.43},{"p":"c","b":"c3","s":"SOC","k":2.75,"E":0.38},{"p":"c","b":"c3","s":"SOC","k":2.875,"E":0.15},{"p":"c","b":"c3","s":"SOC","k":3,"E":-0.02},{"p":"c","b":"c3","s":"SOC","k":3.25,"E":-0.02},{"p":"c","b":"c3","s":"SOC","k":3.5,"E":-0.03},{"p":"c","b":"c3","s":"SOC","k":3.75,"E":-0.03},{"p":"c","b":"c3","s":"SOC","k":4,"E":-0.04},{"p":"c","b":"c3","s":"SOC","k":4.25,"E":0.0},{"p":"c","b":"c3","s":"SOC","k":4.5,"E":-0.07},{"p":"c","b":"c3","s":"SOC","k":4.75,"E":-0.17},{"p":"c","b":"c3","s":"SOC","k":5,"E":-0.18},{"p":"c","b":"c3","s":"SOC","k":5.25,"E":-0.3},{"p":"c","b":"c3","s":"SOC","k":5.5,"E":-0.5},{"p":"c","b":"c3","s":"SOC","k":5.75,"E":-0.7},{"p":"c","b":"c3","s":"SOC","k":6,"E":-0.76},{"p":"c","b":"c3","s":"SOC","k":6.25,"E":-0.5},{"p":"c","b":"c3","s":"SOC","k":6.5,"E":-0.15},{"p":"c","b":"c3","s":"SOC","k":6.75,"E":0.0},{"p":"c","b":"c3","s":"SOC","k":7,"E":-0.03},
{"p":"c","b":"c4","s":"SOC","k":0,"E":-0.19},{"p":"c","b":"c4","s":"SOC","k":0.25,"E":-0.21},{"p":"c","b":"c4","s":"SOC","k":0.5,"E":-0.14},{"p":"c","b":"c4","s":"SOC","k":0.75,"E":-0.04},{"p":"c","b":"c4","s":"SOC","k":1,"E":0.05},{"p":"c","b":"c4","s":"SOC","k":1.25,"E":-0.1},{"p":"c","b":"c4","s":"SOC","k":1.5,"E":-0.36},{"p":"c","b":"c4","s":"SOC","k":1.75,"E":-0.58},{"p":"c","b":"c4","s":"SOC","k":2,"E":-0.73},{"p":"c","b":"c4","s":"SOC","k":2.25,"E":-0.45},{"p":"c","b":"c4","s":"SOC","k":2.5,"E":-0.2},{"p":"c","b":"c4","s":"SOC","k":2.75,"E":-0.21},{"p":"c","b":"c4","s":"SOC","k":3,"E":-0.18},{"p":"c","b":"c4","s":"SOC","k":3.25,"E":-0.1},{"p":"c","b":"c4","s":"SOC","k":3.5,"E":0.0},{"p":"c","b":"c4","s":"SOC","k":3.75,"E":0.1},{"p":"c","b":"c4","s":"SOC","k":4,"E":0.17},{"p":"c","b":"c4","s":"SOC","k":4.25,"E":0.22},{"p":"c","b":"c4","s":"SOC","k":4.5,"E":0.32},{"p":"c","b":"c4","s":"SOC","k":4.75,"E":0.27},{"p":"c","b":"c4","s":"SOC","k":5,"E":0.18},{"p":"c","b":"c4","s":"SOC","k":5.25,"E":0.25},{"p":"c","b":"c4","s":"SOC","k":5.5,"E":0.35},{"p":"c","b":"c4","s":"SOC","k":5.75,"E":0.41},{"p":"c","b":"c4","s":"SOC","k":6,"E":0.43},{"p":"c","b":"c4","s":"SOC","k":6.25,"E":0.4},{"p":"c","b":"c4","s":"SOC","k":6.5,"E":0.38},{"p":"c","b":"c4","s":"SOC","k":6.75,"E":0.3},{"p":"c","b":"c4","s":"SOC","k":7,"E":0.17},
{"p":"c","b":"c5","s":"SOC","k":0,"E":-0.61},{"p":"c","b":"c5","s":"SOC","k":0.25,"E":-0.52},{"p":"c","b":"c5","s":"SOC","k":0.5,"E":-0.45},{"p":"c","b":"c5","s":"SOC","k":0.625,"E":-0.55},{"p":"c","b":"c5","s":"SOC","k":0.75,"E":-0.75},{"p":"c","b":"c5","s":"SOC","k":1,"E":-1.12},{"p":"c","b":"c5","s":"SOC","k":1.25,"E":-1.0},{"p":"c","b":"c5","s":"SOC","k":1.5,"E":-0.9},{"p":"c","b":"c5","s":"SOC","k":1.75,"E":-0.82},{"p":"c","b":"c5","s":"SOC","k":2,"E":-0.76},{"p":"c","b":"c5","s":"SOC","k":2.25,"E":-0.6},{"p":"c","b":"c5","s":"SOC","k":2.5,"E":-0.56},{"p":"c","b":"c5","s":"SOC","k":2.75,"E":-0.58},{"p":"c","b":"c5","s":"SOC","k":3,"E":-0.61},{"p":"c","b":"c5","s":"SOC","k":3.25,"E":-0.57},{"p":"c","b":"c5","s":"SOC","k":3.5,"E":-0.52},{"p":"c","b":"c5","s":"SOC","k":3.75,"E":-0.46},{"p":"c","b":"c5","s":"SOC","k":4,"E":-0.43},{"p":"c","b":"c5","s":"SOC","k":4.25,"E":-0.38},{"p":"c","b":"c5","s":"SOC","k":4.5,"E":-0.3},{"p":"c","b":"c5","s":"SOC","k":4.625,"E":-0.4},{"p":"c","b":"c5","s":"SOC","k":4.75,"E":-0.75},{"p":"c","b":"c5","s":"SOC","k":5,"E":-1.0},{"p":"c","b":"c5","s":"SOC","k":5.25,"E":-0.96},{"p":"c","b":"c5","s":"SOC","k":5.5,"E":-0.92},{"p":"c","b":"c5","s":"SOC","k":5.75,"E":-0.88},{"p":"c","b":"c5","s":"SOC","k":6,"E":-0.85},{"p":"c","b":"c5","s":"SOC","k":6.25,"E":-0.84},{"p":"c","b":"c5","s":"SOC","k":6.5,"E":-0.55},{"p":"c","b":"c5","s":"SOC","k":6.625,"E":-0.42},{"p":"c","b":"c5","s":"SOC","k":6.75,"E":-0.4},{"p":"c","b":"c5","s":"SOC","k":7,"E":-0.43},
{"p":"c","b":"c6","s":"SOC","k":0,"E":-0.73},{"p":"c","b":"c6","s":"SOC","k":0.25,"E":-0.77},{"p":"c","b":"c6","s":"SOC","k":0.5,"E":-0.95},{"p":"c","b":"c6","s":"SOC","k":0.75,"E":-1.2},{"p":"c","b":"c6","s":"SOC","k":0.875,"E":-1.22},{"p":"c","b":"c6","s":"SOC","k":1,"E":-1.15},{"p":"c","b":"c6","s":"SOC","k":1.25,"E":-1.1},{"p":"c","b":"c6","s":"SOC","k":1.5,"E":-1.02},{"p":"c","b":"c6","s":"SOC","k":1.75,"E":-0.95},{"p":"c","b":"c6","s":"SOC","k":2,"E":-0.88},{"p":"c","b":"c6","s":"SOC","k":2.125,"E":-0.9},{"p":"c","b":"c6","s":"SOC","k":2.25,"E":-0.84},{"p":"c","b":"c6","s":"SOC","k":2.5,"E":-0.8},{"p":"c","b":"c6","s":"SOC","k":2.75,"E":-0.76},{"p":"c","b":"c6","s":"SOC","k":3,"E":-0.74},{"p":"c","b":"c6","s":"SOC","k":3.25,"E":-0.66},{"p":"c","b":"c6","s":"SOC","k":3.5,"E":-0.58},{"p":"c","b":"c6","s":"SOC","k":3.75,"E":-0.51},{"p":"c","b":"c6","s":"SOC","k":4,"E":-0.48},{"p":"c","b":"c6","s":"SOC","k":4.25,"E":-0.6},{"p":"c","b":"c6","s":"SOC","k":4.5,"E":-0.9},{"p":"c","b":"c6","s":"SOC","k":4.75,"E":-1.2},{"p":"c","b":"c6","s":"SOC","k":4.875,"E":-1.21},{"p":"c","b":"c6","s":"SOC","k":5,"E":-1.18},{"p":"c","b":"c6","s":"SOC","k":5.25,"E":-1.1},{"p":"c","b":"c6","s":"SOC","k":5.5,"E":-1.03},{"p":"c","b":"c6","s":"SOC","k":5.75,"E":-0.98},{"p":"c","b":"c6","s":"SOC","k":6,"E":-0.97},{"p":"c","b":"c6","s":"SOC","k":6.125,"E":-0.97},{"p":"c","b":"c6","s":"SOC","k":6.25,"E":-0.9},{"p":"c","b":"c6","s":"SOC","k":6.5,"E":-0.75},{"p":"c","b":"c6","s":"SOC","k":6.75,"E":-0.55},{"p":"c","b":"c6","s":"SOC","k":7,"E":-0.5},
{"p":"d","b":"d1","s":"SOC","k":0,"E":1.05},{"p":"d","b":"d1","s":"SOC","k":0.25,"E":1.03},{"p":"d","b":"d1","s":"SOC","k":0.5,"E":0.99},{"p":"d","b":"d1","s":"SOC","k":0.75,"E":1.02},{"p":"d","b":"d1","s":"SOC","k":1,"E":1.05},{"p":"d","b":"d1","s":"SOC","k":1.25,"E":1.07},{"p":"d","b":"d1","s":"SOC","k":1.5,"E":1.09},{"p":"d","b":"d1","s":"SOC","k":1.75,"E":1.11},{"p":"d","b":"d1","s":"SOC","k":2,"E":1.11},{"p":"d","b":"d1","s":"SOC","k":2.25,"E":1.06},{"p":"d","b":"d1","s":"SOC","k":2.5,"E":1.0},{"p":"d","b":"d1","s":"SOC","k":2.75,"E":1.03},{"p":"d","b":"d1","s":"SOC","k":3,"E":1.05},{"p":"d","b":"d1","s":"SOC","k":3.25,"E":0.95},{"p":"d","b":"d1","s":"SOC","k":3.5,"E":0.78},{"p":"d","b":"d1","s":"SOC","k":3.75,"E":0.67},{"p":"d","b":"d1","s":"SOC","k":4,"E":0.7},{"p":"d","b":"d1","s":"SOC","k":4.25,"E":0.8},{"p":"d","b":"d1","s":"SOC","k":4.5,"E":0.98},{"p":"d","b":"d1","s":"SOC","k":4.75,"E":1.09},{"p":"d","b":"d1","s":"SOC","k":5,"E":1.1},{"p":"d","b":"d1","s":"SOC","k":5.25,"E":1.1},{"p":"d","b":"d1","s":"SOC","k":5.5,"E":1.09},{"p":"d","b":"d1","s":"SOC","k":5.75,"E":1.08},{"p":"d","b":"d1","s":"SOC","k":6,"E":1.07},{"p":"d","b":"d1","s":"SOC","k":6.25,"E":1.08},{"p":"d","b":"d1","s":"SOC","k":6.5,"E":1.05},{"p":"d","b":"d1","s":"SOC","k":6.75,"E":0.85},{"p":"d","b":"d1","s":"SOC","k":7,"E":0.7},
{"p":"d","b":"d2","s":"SOC","k":0,"E":0.61},{"p":"d","b":"d2","s":"SOC","k":0.25,"E":0.65},{"p":"d","b":"d2","s":"SOC","k":0.5,"E":0.76},{"p":"d","b":"d2","s":"SOC","k":0.75,"E":0.87},{"p":"d","b":"d2","s":"SOC","k":1,"E":0.9},{"p":"d","b":"d2","s":"SOC","k":1.25,"E":0.89},{"p":"d","b":"d2","s":"SOC","k":1.5,"E":0.87},{"p":"d","b":"d2","s":"SOC","k":1.75,"E":0.88},{"p":"d","b":"d2","s":"SOC","k":2,"E":0.9},{"p":"d","b":"d2","s":"SOC","k":2.25,"E":0.82},{"p":"d","b":"d2","s":"SOC","k":2.5,"E":0.7},{"p":"d","b":"d2","s":"SOC","k":2.75,"E":0.63},{"p":"d","b":"d2","s":"SOC","k":3,"E":0.61},{"p":"d","b":"d2","s":"SOC","k":3.25,"E":0.53},{"p":"d","b":"d2","s":"SOC","k":3.5,"E":0.41},{"p":"d","b":"d2","s":"SOC","k":3.625,"E":0.48},{"p":"d","b":"d2","s":"SOC","k":3.75,"E":0.55},{"p":"d","b":"d2","s":"SOC","k":4,"E":0.47},{"p":"d","b":"d2","s":"SOC","k":4.25,"E":0.55},{"p":"d","b":"d2","s":"SOC","k":4.5,"E":0.8},{"p":"d","b":"d2","s":"SOC","k":4.75,"E":0.98},{"p":"d","b":"d2","s":"SOC","k":5,"E":1.02},{"p":"d","b":"d2","s":"SOC","k":5.25,"E":0.99},{"p":"d","b":"d2","s":"SOC","k":5.5,"E":0.95},{"p":"d","b":"d2","s":"SOC","k":5.75,"E":0.93},{"p":"d","b":"d2","s":"SOC","k":6,"E":0.91},{"p":"d","b":"d2","s":"SOC","k":6.25,"E":0.84},{"p":"d","b":"d2","s":"SOC","k":6.5,"E":0.7},{"p":"d","b":"d2","s":"SOC","k":6.75,"E":0.55},{"p":"d","b":"d2","s":"SOC","k":7,"E":0.47},
{"p":"d","b":"d3","s":"SOC","k":0,"E":0.09},{"p":"d","b":"d3","s":"SOC","k":0.25,"E":0.14},{"p":"d","b":"d3","s":"SOC","k":0.5,"E":0.24},{"p":"d","b":"d3","s":"SOC","k":0.75,"E":0.42},{"p":"d","b":"d3","s":"SOC","k":1,"E":0.51},{"p":"d","b":"d3","s":"SOC","k":1.25,"E":0.51},{"p":"d","b":"d3","s":"SOC","k":1.5,"E":0.49},{"p":"d","b":"d3","s":"SOC","k":1.75,"E":0.46},{"p":"d","b":"d3","s":"SOC","k":2,"E":0.45},{"p":"d","b":"d3","s":"SOC","k":2.25,"E":0.35},{"p":"d","b":"d3","s":"SOC","k":2.5,"E":0.2},{"p":"d","b":"d3","s":"SOC","k":2.75,"E":0.12},{"p":"d","b":"d3","s":"SOC","k":3,"E":0.09},{"p":"d","b":"d3","s":"SOC","k":3.25,"E":0.2},{"p":"d","b":"d3","s":"SOC","k":3.5,"E":0.36},{"p":"d","b":"d3","s":"SOC","k":3.75,"E":0.18},{"p":"d","b":"d3","s":"SOC","k":4,"E":0.0},{"p":"d","b":"d3","s":"SOC","k":4.25,"E":0.08},{"p":"d","b":"d3","s":"SOC","k":4.5,"E":0.14},{"p":"d","b":"d3","s":"SOC","k":4.75,"E":0.11},{"p":"d","b":"d3","s":"SOC","k":5,"E":0.05},{"p":"d","b":"d3","s":"SOC","k":5.25,"E":0.15},{"p":"d","b":"d3","s":"SOC","k":5.5,"E":0.3},{"p":"d","b":"d3","s":"SOC","k":5.75,"E":0.41},{"p":"d","b":"d3","s":"SOC","k":6,"E":0.45},{"p":"d","b":"d3","s":"SOC","k":6.25,"E":0.4},{"p":"d","b":"d3","s":"SOC","k":6.5,"E":0.25},{"p":"d","b":"d3","s":"SOC","k":6.75,"E":0.1},{"p":"d","b":"d3","s":"SOC","k":7,"E":0.0},
{"p":"d","b":"d4","s":"SOC","k":0,"E":-0.38},{"p":"d","b":"d4","s":"SOC","k":0.25,"E":-0.2},{"p":"d","b":"d4","s":"SOC","k":0.5,"E":-0.07},{"p":"d","b":"d4","s":"SOC","k":0.75,"E":-0.06},{"p":"d","b":"d4","s":"SOC","k":1,"E":-0.07},{"p":"d","b":"d4","s":"SOC","k":1.25,"E":-0.15},{"p":"d","b":"d4","s":"SOC","k":1.5,"E":-0.28},{"p":"d","b":"d4","s":"SOC","k":1.75,"E":-0.4},{"p":"d","b":"d4","s":"SOC","k":2,"E":-0.44},{"p":"d","b":"d4","s":"SOC","k":2.25,"E":-0.2},{"p":"d","b":"d4","s":"SOC","k":2.5,"E":-0.06},{"p":"d","b":"d4","s":"SOC","k":2.625,"E":-0.08},{"p":"d","b":"d4","s":"SOC","k":2.75,"E":-0.22},{"p":"d","b":"d4","s":"SOC","k":3,"E":-0.38},{"p":"d","b":"d4","s":"SOC","k":3.25,"E":-0.32},{"p":"d","b":"d4","s":"SOC","k":3.5,"E":-0.22},{"p":"d","b":"d4","s":"SOC","k":3.75,"E":-0.1},{"p":"d","b":"d4","s":"SOC","k":4,"E":0.0},{"p":"d","b":"d4","s":"SOC","k":4.25,"E":-0.05},{"p":"d","b":"d4","s":"SOC","k":4.5,"E":-0.1},{"p":"d","b":"d4","s":"SOC","k":4.75,"E":-0.15},{"p":"d","b":"d4","s":"SOC","k":5,"E":-0.13},{"p":"d","b":"d4","s":"SOC","k":5.25,"E":-0.25},{"p":"d","b":"d4","s":"SOC","k":5.5,"E":-0.38},{"p":"d","b":"d4","s":"SOC","k":5.75,"E":-0.47},{"p":"d","b":"d4","s":"SOC","k":6,"E":-0.52},{"p":"d","b":"d4","s":"SOC","k":6.25,"E":-0.38},{"p":"d","b":"d4","s":"SOC","k":6.5,"E":-0.22},{"p":"d","b":"d4","s":"SOC","k":6.75,"E":-0.08},{"p":"d","b":"d4","s":"SOC","k":7,"E":0.0},
{"p":"d","b":"d5","s":"SOC","k":0,"E":-0.43},{"p":"d","b":"d5","s":"SOC","k":0.25,"E":-0.41},{"p":"d","b":"d5","s":"SOC","k":0.5,"E":-0.45},{"p":"d","b":"d5","s":"SOC","k":0.75,"E":-0.62},{"p":"d","b":"d5","s":"SOC","k":1,"E":-0.74},{"p":"d","b":"d5","s":"SOC","k":1.25,"E":-0.68},{"p":"d","b":"d5","s":"SOC","k":1.5,"E":-0.58},{"p":"d","b":"d5","s":"SOC","k":1.75,"E":-0.51},{"p":"d","b":"d5","s":"SOC","k":2,"E":-0.49},{"p":"d","b":"d5","s":"SOC","k":2.25,"E":-0.57},{"p":"d","b":"d5","s":"SOC","k":2.5,"E":-0.54},{"p":"d","b":"d5","s":"SOC","k":2.75,"E":-0.47},{"p":"d","b":"d5","s":"SOC","k":3,"E":-0.43},{"p":"d","b":"d5","s":"SOC","k":3.25,"E":-0.38},{"p":"d","b":"d5","s":"SOC","k":3.5,"E":-0.27},{"p":"d","b":"d5","s":"SOC","k":3.75,"E":-0.15},{"p":"d","b":"d5","s":"SOC","k":4,"E":-0.05},{"p":"d","b":"d5","s":"SOC","k":4.25,"E":-0.17},{"p":"d","b":"d5","s":"SOC","k":4.5,"E":-0.26},{"p":"d","b":"d5","s":"SOC","k":4.75,"E":-0.37},{"p":"d","b":"d5","s":"SOC","k":5,"E":-0.45},{"p":"d","b":"d5","s":"SOC","k":5.25,"E":-0.48},{"p":"d","b":"d5","s":"SOC","k":5.5,"E":-0.52},{"p":"d","b":"d5","s":"SOC","k":5.75,"E":-0.55},{"p":"d","b":"d5","s":"SOC","k":6,"E":-0.56},{"p":"d","b":"d5","s":"SOC","k":6.25,"E":-0.58},{"p":"d","b":"d5","s":"SOC","k":6.375,"E":-0.6},{"p":"d","b":"d5","s":"SOC","k":6.5,"E":-0.5},{"p":"d","b":"d5","s":"SOC","k":6.75,"E":-0.25},{"p":"d","b":"d5","s":"SOC","k":7,"E":-0.05},
{"p":"d","b":"d6","s":"SOC","k":0,"E":-0.5},{"p":"d","b":"d6","s":"SOC","k":0.25,"E":-0.53},{"p":"d","b":"d6","s":"SOC","k":0.5,"E":-0.62},{"p":"d","b":"d6","s":"SOC","k":0.75,"E":-0.75},{"p":"d","b":"d6","s":"SOC","k":1,"E":-0.82},{"p":"d","b":"d6","s":"SOC","k":1.25,"E":-0.79},{"p":"d","b":"d6","s":"SOC","k":1.5,"E":-0.71},{"p":"d","b":"d6","s":"SOC","k":1.75,"E":-0.63},{"p":"d","b":"d6","s":"SOC","k":2,"E":-0.59},{"p":"d","b":"d6","s":"SOC","k":2.25,"E":-0.62},{"p":"d","b":"d6","s":"SOC","k":2.5,"E":-0.58},{"p":"d","b":"d6","s":"SOC","k":2.75,"E":-0.53},{"p":"d","b":"d6","s":"SOC","k":3,"E":-0.5},{"p":"d","b":"d6","s":"SOC","k":3.25,"E":-0.44},{"p":"d","b":"d6","s":"SOC","k":3.5,"E":-0.44},{"p":"d","b":"d6","s":"SOC","k":3.75,"E":-0.43},{"p":"d","b":"d6","s":"SOC","k":4,"E":-0.43},{"p":"d","b":"d6","s":"SOC","k":4.25,"E":-0.46},{"p":"d","b":"d6","s":"SOC","k":4.5,"E":-0.55},{"p":"d","b":"d6","s":"SOC","k":4.75,"E":-0.8},{"p":"d","b":"d6","s":"SOC","k":5,"E":-0.92},{"p":"d","b":"d6","s":"SOC","k":5.25,"E":-0.88},{"p":"d","b":"d6","s":"SOC","k":5.5,"E":-0.8},{"p":"d","b":"d6","s":"SOC","k":5.75,"E":-0.7},{"p":"d","b":"d6","s":"SOC","k":6,"E":-0.65},{"p":"d","b":"d6","s":"SOC","k":6.25,"E":-0.64},{"p":"d","b":"d6","s":"SOC","k":6.5,"E":-0.67},{"p":"d","b":"d6","s":"SOC","k":6.75,"E":-0.5},{"p":"d","b":"d6","s":"SOC","k":7,"E":-0.43},
{"p":"e","b":"e1","s":"SOC","k":0,"E":0.94},{"p":"e","b":"e1","s":"SOC","k":0.25,"E":0.94},{"p":"e","b":"e1","s":"SOC","k":0.5,"E":0.97},{"p":"e","b":"e1","s":"SOC","k":0.75,"E":1.15},{"p":"e","b":"e1","s":"SOC","k":1,"E":1.26},{"p":"e","b":"e1","s":"SOC","k":1.25,"E":1.22},{"p":"e","b":"e1","s":"SOC","k":1.5,"E":1.12},{"p":"e","b":"e1","s":"SOC","k":1.75,"E":1.02},{"p":"e","b":"e1","s":"SOC","k":2,"E":0.97},{"p":"e","b":"e1","s":"SOC","k":2.25,"E":1.0},{"p":"e","b":"e1","s":"SOC","k":2.5,"E":1.0},{"p":"e","b":"e1","s":"SOC","k":2.75,"E":0.96},{"p":"e","b":"e1","s":"SOC","k":3,"E":0.94},{"p":"e","b":"e1","s":"SOC","k":3.25,"E":0.89},{"p":"e","b":"e1","s":"SOC","k":3.5,"E":0.77},{"p":"e","b":"e1","s":"SOC","k":3.75,"E":0.66},{"p":"e","b":"e1","s":"SOC","k":4,"E":0.76},{"p":"e","b":"e1","s":"SOC","k":4.25,"E":0.84},{"p":"e","b":"e1","s":"SOC","k":4.5,"E":0.93},{"p":"e","b":"e1","s":"SOC","k":4.75,"E":0.98},{"p":"e","b":"e1","s":"SOC","k":5,"E":0.96},{"p":"e","b":"e1","s":"SOC","k":5.25,"E":0.97},{"p":"e","b":"e1","s":"SOC","k":5.5,"E":0.97},{"p":"e","b":"e1","s":"SOC","k":5.75,"E":0.97},{"p":"e","b":"e1","s":"SOC","k":6,"E":0.97},{"p":"e","b":"e1","s":"SOC","k":6.25,"E":0.97},{"p":"e","b":"e1","s":"SOC","k":6.5,"E":0.97},{"p":"e","b":"e1","s":"SOC","k":6.75,"E":0.88},{"p":"e","b":"e1","s":"SOC","k":7,"E":0.76},
{"p":"e","b":"e2","s":"SOC","k":0,"E":0.51},{"p":"e","b":"e2","s":"SOC","k":0.25,"E":0.63},{"p":"e","b":"e2","s":"SOC","k":0.5,"E":0.73},{"p":"e","b":"e2","s":"SOC","k":0.75,"E":0.74},{"p":"e","b":"e2","s":"SOC","k":1,"E":0.74},{"p":"e","b":"e2","s":"SOC","k":1.25,"E":0.78},{"p":"e","b":"e2","s":"SOC","k":1.5,"E":0.84},{"p":"e","b":"e2","s":"SOC","k":1.75,"E":0.89},{"p":"e","b":"e2","s":"SOC","k":2,"E":0.91},{"p":"e","b":"e2","s":"SOC","k":2.25,"E":0.9},{"p":"e","b":"e2","s":"SOC","k":2.5,"E":0.8},{"p":"e","b":"e2","s":"SOC","k":2.75,"E":0.62},{"p":"e","b":"e2","s":"SOC","k":3,"E":0.51},{"p":"e","b":"e2","s":"SOC","k":3.25,"E":0.47},{"p":"e","b":"e2","s":"SOC","k":3.5,"E":0.33},{"p":"e","b":"e2","s":"SOC","k":3.75,"E":0.17},{"p":"e","b":"e2","s":"SOC","k":4,"E":0.02},{"p":"e","b":"e2","s":"SOC","k":4.25,"E":0.14},{"p":"e","b":"e2","s":"SOC","k":4.5,"E":0.24},{"p":"e","b":"e2","s":"SOC","k":4.75,"E":0.26},{"p":"e","b":"e2","s":"SOC","k":5,"E":0.23},{"p":"e","b":"e2","s":"SOC","k":5.25,"E":0.28},{"p":"e","b":"e2","s":"SOC","k":5.5,"E":0.35},{"p":"e","b":"e2","s":"SOC","k":5.75,"E":0.39},{"p":"e","b":"e2","s":"SOC","k":6,"E":0.39},{"p":"e","b":"e2","s":"SOC","k":6.25,"E":0.35},{"p":"e","b":"e2","s":"SOC","k":6.5,"E":0.26},{"p":"e","b":"e2","s":"SOC","k":6.75,"E":0.14},{"p":"e","b":"e2","s":"SOC","k":7,"E":0.02},
{"p":"e","b":"e3","s":"SOC","k":0,"E":0.11},{"p":"e","b":"e3","s":"SOC","k":0.25,"E":0.05},{"p":"e","b":"e3","s":"SOC","k":0.375,"E":0.05},{"p":"e","b":"e3","s":"SOC","k":0.5,"E":0.1},{"p":"e","b":"e3","s":"SOC","k":0.75,"E":0.3},{"p":"e","b":"e3","s":"SOC","k":1,"E":0.39},{"p":"e","b":"e3","s":"SOC","k":1.25,"E":0.4},{"p":"e","b":"e3","s":"SOC","k":1.5,"E":0.41},{"p":"e","b":"e3","s":"SOC","k":1.75,"E":0.42},{"p":"e","b":"e3","s":"SOC","k":2,"E":0.43},{"p":"e","b":"e3","s":"SOC","k":2.25,"E":0.28},{"p":"e","b":"e3","s":"SOC","k":2.5,"E":0.05},{"p":"e","b":"e3","s":"SOC","k":2.75,"E":0.09},{"p":"e","b":"e3","s":"SOC","k":3,"E":0.12},{"p":"e","b":"e3","s":"SOC","k":3.25,"E":0.25},{"p":"e","b":"e3","s":"SOC","k":3.5,"E":0.45},{"p":"e","b":"e3","s":"SOC","k":3.75,"E":0.52},{"p":"e","b":"e3","s":"SOC","k":4,"E":0.39},{"p":"e","b":"e3","s":"SOC","k":4.25,"E":0.5},{"p":"e","b":"e3","s":"SOC","k":4.5,"E":0.65},{"p":"e","b":"e3","s":"SOC","k":4.75,"E":0.85},{"p":"e","b":"e3","s":"SOC","k":5,"E":0.95},{"p":"e","b":"e3","s":"SOC","k":5.25,"E":0.91},{"p":"e","b":"e3","s":"SOC","k":5.5,"E":0.87},{"p":"e","b":"e3","s":"SOC","k":5.75,"E":0.84},{"p":"e","b":"e3","s":"SOC","k":6,"E":0.83},{"p":"e","b":"e3","s":"SOC","k":6.25,"E":0.82},{"p":"e","b":"e3","s":"SOC","k":6.5,"E":0.7},{"p":"e","b":"e3","s":"SOC","k":6.75,"E":0.5},{"p":"e","b":"e3","s":"SOC","k":7,"E":0.39},
{"p":"e","b":"e4","s":"SOC","k":0,"E":-0.37},{"p":"e","b":"e4","s":"SOC","k":0.25,"E":-0.36},{"p":"e","b":"e4","s":"SOC","k":0.5,"E":-0.34},{"p":"e","b":"e4","s":"SOC","k":0.75,"E":-0.42},{"p":"e","b":"e4","s":"SOC","k":1,"E":-0.49},{"p":"e","b":"e4","s":"SOC","k":1.25,"E":-0.46},{"p":"e","b":"e4","s":"SOC","k":1.5,"E":-0.43},{"p":"e","b":"e4","s":"SOC","k":1.75,"E":-0.43},{"p":"e","b":"e4","s":"SOC","k":2,"E":-0.44},{"p":"e","b":"e4","s":"SOC","k":2.25,"E":-0.45},{"p":"e","b":"e4","s":"SOC","k":2.5,"E":-0.46},{"p":"e","b":"e4","s":"SOC","k":2.75,"E":-0.4},{"p":"e","b":"e4","s":"SOC","k":3,"E":-0.37},{"p":"e","b":"e4","s":"SOC","k":3.25,"E":-0.3},{"p":"e","b":"e4","s":"SOC","k":3.5,"E":-0.2},{"p":"e","b":"e4","s":"SOC","k":3.75,"E":-0.1},{"p":"e","b":"e4","s":"SOC","k":4,"E":-0.03},{"p":"e","b":"e4","s":"SOC","k":4.25,"E":-0.2},{"p":"e","b":"e4","s":"SOC","k":4.5,"E":-0.38},{"p":"e","b":"e4","s":"SOC","k":4.625,"E":-0.43},{"p":"e","b":"e4","s":"SOC","k":4.75,"E":-0.38},{"p":"e","b":"e4","s":"SOC","k":5,"E":-0.27},{"p":"e","b":"e4","s":"SOC","k":5.25,"E":-0.32},{"p":"e","b":"e4","s":"SOC","k":5.5,"E":-0.4},{"p":"e","b":"e4","s":"SOC","k":5.75,"E":-0.48},{"p":"e","b":"e4","s":"SOC","k":6,"E":-0.53},{"p":"e","b":"e4","s":"SOC","k":6.25,"E":-0.47},{"p":"e","b":"e4","s":"SOC","k":6.5,"E":-0.45},{"p":"e","b":"e4","s":"SOC","k":6.75,"E":-0.25},{"p":"e","b":"e4","s":"SOC","k":7,"E":-0.03},
{"p":"e","b":"e5","s":"SOC","k":0,"E":-0.5},{"p":"e","b":"e5","s":"SOC","k":0.25,"E":-0.58},{"p":"e","b":"e5","s":"SOC","k":0.5,"E":-0.72},{"p":"e","b":"e5","s":"SOC","k":0.75,"E":-0.84},{"p":"e","b":"e5","s":"SOC","k":1,"E":-0.9},{"p":"e","b":"e5","s":"SOC","k":1.25,"E":-0.82},{"p":"e","b":"e5","s":"SOC","k":1.5,"E":-0.7},{"p":"e","b":"e5","s":"SOC","k":1.75,"E":-0.58},{"p":"e","b":"e5","s":"SOC","k":2,"E":-0.51},{"p":"e","b":"e5","s":"SOC","k":2.25,"E":-0.58},{"p":"e","b":"e5","s":"SOC","k":2.5,"E":-0.67},{"p":"e","b":"e5","s":"SOC","k":2.75,"E":-0.57},{"p":"e","b":"e5","s":"SOC","k":3,"E":-0.5},{"p":"e","b":"e5","s":"SOC","k":3.25,"E":-0.38},{"p":"e","b":"e5","s":"SOC","k":3.5,"E":-0.25},{"p":"e","b":"e5","s":"SOC","k":3.75,"E":-0.13},{"p":"e","b":"e5","s":"SOC","k":4,"E":-0.06},{"p":"e","b":"e5","s":"SOC","k":4.25,"E":-0.3},{"p":"e","b":"e5","s":"SOC","k":4.5,"E":-0.55},{"p":"e","b":"e5","s":"SOC","k":4.75,"E":-0.72},{"p":"e","b":"e5","s":"SOC","k":5,"E":-0.86},{"p":"e","b":"e5","s":"SOC","k":5.25,"E":-0.8},{"p":"e","b":"e5","s":"SOC","k":5.5,"E":-0.72},{"p":"e","b":"e5","s":"SOC","k":5.75,"E":-0.64},{"p":"e","b":"e5","s":"SOC","k":6,"E":-0.6},{"p":"e","b":"e5","s":"SOC","k":6.25,"E":-0.62},{"p":"e","b":"e5","s":"SOC","k":6.5,"E":-0.65},{"p":"e","b":"e5","s":"SOC","k":6.75,"E":-0.4},{"p":"e","b":"e5","s":"SOC","k":7,"E":-0.06},
{"p":"e","b":"e6","s":"SOC","k":0,"E":-1.29},{"p":"e","b":"e6","s":"SOC","k":0.25,"E":-1.15},{"p":"e","b":"e6","s":"SOC","k":0.5,"E":-0.93},{"p":"e","b":"e6","s":"SOC","k":0.625,"E":-0.91},{"p":"e","b":"e6","s":"SOC","k":0.75,"E":-0.95},{"p":"e","b":"e6","s":"SOC","k":1,"E":-0.98},{"p":"e","b":"e6","s":"SOC","k":1.25,"E":-1.05},{"p":"e","b":"e6","s":"SOC","k":1.5,"E":-1.15},{"p":"e","b":"e6","s":"SOC","k":1.75,"E":-1.24},{"p":"e","b":"e6","s":"SOC","k":2,"E":-1.28},{"p":"e","b":"e6","s":"SOC","k":2.25,"E":-1.1},{"p":"e","b":"e6","s":"SOC","k":2.5,"E":-0.9},{"p":"e","b":"e6","s":"SOC","k":2.75,"E":-1.1},{"p":"e","b":"e6","s":"SOC","k":3,"E":-1.29},{"p":"e","b":"e6","s":"SOC","k":3.25,"E":-1.28},{"p":"e","b":"e6","s":"SOC","k":3.5,"E":-1.26},{"p":"e","b":"e6","s":"SOC","k":3.75,"E":-1.24},{"p":"e","b":"e6","s":"SOC","k":4,"E":-1.23},{"p":"e","b":"e6","s":"SOC","k":4.25,"E":-1.0},{"p":"e","b":"e6","s":"SOC","k":4.5,"E":-0.8},{"p":"e","b":"e6","s":"SOC","k":4.75,"E":-1.0},{"p":"e","b":"e6","s":"SOC","k":5,"E":-1.19},{"p":"e","b":"e6","s":"SOC","k":5.25,"E":-1.21},{"p":"e","b":"e6","s":"SOC","k":5.5,"E":-1.23},{"p":"e","b":"e6","s":"SOC","k":5.75,"E":-1.26},{"p":"e","b":"e6","s":"SOC","k":6,"E":-1.27},{"p":"e","b":"e6","s":"SOC","k":6.25,"E":-1.1},{"p":"e","b":"e6","s":"SOC","k":6.5,"E":-0.81},{"p":"e","b":"e6","s":"SOC","k":6.75,"E":-1.0},{"p":"e","b":"e6","s":"SOC","k":7,"E":-1.22},
{"p":"e","b":"ed1","s":"w/o SOC","k":0,"E":0.72},{"p":"e","b":"ed1","s":"w/o SOC","k":0.25,"E":0.8},{"p":"e","b":"ed1","s":"w/o SOC","k":0.5,"E":0.97},{"p":"e","b":"ed1","s":"w/o SOC","k":0.75,"E":1.13},{"p":"e","b":"ed1","s":"w/o SOC","k":1,"E":1.2},{"p":"e","b":"ed1","s":"w/o SOC","k":1.25,"E":1.12},{"p":"e","b":"ed1","s":"w/o SOC","k":1.5,"E":0.98},{"p":"e","b":"ed1","s":"w/o SOC","k":1.75,"E":0.86},{"p":"e","b":"ed1","s":"w/o SOC","k":2,"E":0.76},{"p":"e","b":"ed1","s":"w/o SOC","k":2.25,"E":0.55},{"p":"e","b":"ed1","s":"w/o SOC","k":2.5,"E":0.25},{"p":"e","b":"ed1","s":"w/o SOC","k":2.75,"E":-0.06},{"p":"e","b":"ed1","s":"w/o SOC","k":2.875,"E":-0.12},{"p":"e","b":"ed1","s":"w/o SOC","k":3,"E":-0.08},{"p":"e","b":"ed1","s":"w/o SOC","k":3.25,"E":0.2},{"p":"e","b":"ed1","s":"w/o SOC","k":3.5,"E":0.45},{"p":"e","b":"ed1","s":"w/o SOC","k":3.75,"E":0.58},{"p":"e","b":"ed1","s":"w/o SOC","k":4,"E":0.65},{"p":"e","b":"ed1","s":"w/o SOC","k":4.25,"E":0.72},{"p":"e","b":"ed1","s":"w/o SOC","k":4.5,"E":0.8},{"p":"e","b":"ed1","s":"w/o SOC","k":4.75,"E":0.85},{"p":"e","b":"ed1","s":"w/o SOC","k":5,"E":0.87},{"p":"e","b":"ed1","s":"w/o SOC","k":5.25,"E":0.86},{"p":"e","b":"ed1","s":"w/o SOC","k":5.5,"E":0.85},{"p":"e","b":"ed1","s":"w/o SOC","k":5.75,"E":0.84},{"p":"e","b":"ed1","s":"w/o SOC","k":6,"E":0.83},{"p":"e","b":"ed1","s":"w/o SOC","k":6.25,"E":0.84},{"p":"e","b":"ed1","s":"w/o SOC","k":6.5,"E":0.84},{"p":"e","b":"ed1","s":"w/o SOC","k":6.75,"E":0.78},{"p":"e","b":"ed1","s":"w/o SOC","k":7,"E":0.65},
{"p":"e","b":"ed2","s":"w/o SOC","k":0,"E":0.72},{"p":"e","b":"ed2","s":"w/o SOC","k":0.25,"E":0.71},{"p":"e","b":"ed2","s":"w/o SOC","k":0.5,"E":0.7},{"p":"e","b":"ed2","s":"w/o SOC","k":0.75,"E":0.69},{"p":"e","b":"ed2","s":"w/o SOC","k":1,"E":0.69},{"p":"e","b":"ed2","s":"w/o SOC","k":1.25,"E":0.71},{"p":"e","b":"ed2","s":"w/o SOC","k":1.5,"E":0.74},{"p":"e","b":"ed2","s":"w/o SOC","k":1.75,"E":0.76},{"p":"e","b":"ed2","s":"w/o SOC","k":2,"E":0.78},{"p":"e","b":"ed2","s":"w/o SOC","k":2.25,"E":0.79},{"p":"e","b":"ed2","s":"w/o SOC","k":2.5,"E":0.77},{"p":"e","b":"ed2","s":"w/o SOC","k":2.75,"E":0.74},{"p":"e","b":"ed2","s":"w/o SOC","k":3,"E":0.72},{"p":"e","b":"ed2","s":"w/o SOC","k":3.25,"E":0.68},{"p":"e","b":"ed2","s":"w/o SOC","k":3.5,"E":0.5},{"p":"e","b":"ed2","s":"w/o SOC","k":3.75,"E":0.3},{"p":"e","b":"ed2","s":"w/o SOC","k":4,"E":0.16},{"p":"e","b":"ed2","s":"w/o SOC","k":4.25,"E":0.25},{"p":"e","b":"ed2","s":"w/o SOC","k":4.5,"E":0.33},{"p":"e","b":"ed2","s":"w/o SOC","k":4.75,"E":0.36},{"p":"e","b":"ed2","s":"w/o SOC","k":5,"E":0.32},{"p":"e","b":"ed2","s":"w/o SOC","k":5.25,"E":0.38},{"p":"e","b":"ed2","s":"w/o SOC","k":5.5,"E":0.48},{"p":"e","b":"ed2","s":"w/o SOC","k":5.75,"E":0.58},{"p":"e","b":"ed2","s":"w/o SOC","k":6,"E":0.66},{"p":"e","b":"ed2","s":"w/o SOC","k":6.25,"E":0.6},{"p":"e","b":"ed2","s":"w/o SOC","k":6.5,"E":0.45},{"p":"e","b":"ed2","s":"w/o SOC","k":6.75,"E":0.3},{"p":"e","b":"ed2","s":"w/o SOC","k":7,"E":0.16},
{"p":"e","b":"ed3","s":"w/o SOC","k":0,"E":-0.12},{"p":"e","b":"ed3","s":"w/o SOC","k":0.25,"E":0.0},{"p":"e","b":"ed3","s":"w/o SOC","k":0.5,"E":0.2},{"p":"e","b":"ed3","s":"w/o SOC","k":0.75,"E":0.4},{"p":"e","b":"ed3","s":"w/o SOC","k":1,"E":0.47},{"p":"e","b":"ed3","s":"w/o SOC","k":1.25,"E":0.52},{"p":"e","b":"ed3","s":"w/o SOC","k":1.5,"E":0.6},{"p":"e","b":"ed3","s":"w/o SOC","k":1.75,"E":0.68},{"p":"e","b":"ed3","s":"w/o SOC","k":2,"E":0.75},{"p":"e","b":"ed3","s":"w/o SOC","k":2.25,"E":0.8},{"p":"e","b":"ed3","s":"w/o SOC","k":2.5,"E":0.79},{"p":"e","b":"ed3","s":"w/o SOC","k":2.75,"E":0.75},{"p":"e","b":"ed3","s":"w/o SOC","k":3,"E":0.72},{"p":"e","b":"ed3","s":"w/o SOC","k":3.25,"E":0.7},{"p":"e","b":"ed3","s":"w/o SOC","k":3.5,"E":0.68},{"p":"e","b":"ed3","s":"w/o SOC","k":3.75,"E":0.66},{"p":"e","b":"ed3","s":"w/o SOC","k":4,"E":0.65},{"p":"e","b":"ed3","s":"w/o SOC","k":4.25,"E":0.7},{"p":"e","b":"ed3","s":"w/o SOC","k":4.5,"E":0.78},{"p":"e","b":"ed3","s":"w/o SOC","k":4.75,"E":0.84},{"p":"e","b":"ed3","s":"w/o SOC","k":5,"E":0.87},{"p":"e","b":"ed3","s":"w/o SOC","k":5.25,"E":0.83},{"p":"e","b":"ed3","s":"w/o SOC","k":5.5,"E":0.77},{"p":"e","b":"ed3","s":"w/o SOC","k":5.75,"E":0.71},{"p":"e","b":"ed3","s":"w/o SOC","k":6,"E":0.66},{"p":"e","b":"ed3","s":"w/o SOC","k":6.25,"E":0.55},{"p":"e","b":"ed3","s":"w/o SOC","k":6.5,"E":0.42},{"p":"e","b":"ed3","s":"w/o SOC","k":6.75,"E":0.28},{"p":"e","b":"ed3","s":"w/o SOC","k":7,"E":0.16},
{"p":"e","b":"ed4","s":"w/o SOC","k":0,"E":-0.29},{"p":"e","b":"ed4","s":"w/o SOC","k":0.25,"E":-0.27},{"p":"e","b":"ed4","s":"w/o SOC","k":0.5,"E":-0.3},{"p":"e","b":"ed4","s":"w/o SOC","k":0.75,"E":-0.4},{"p":"e","b":"ed4","s":"w/o SOC","k":1,"E":-0.44},{"p":"e","b":"ed4","s":"w/o SOC","k":1.25,"E":-0.44},{"p":"e","b":"ed4","s":"w/o SOC","k":1.5,"E":-0.42},{"p":"e","b":"ed4","s":"w/o SOC","k":1.75,"E":-0.42},{"p":"e","b":"ed4","s":"w/o SOC","k":2,"E":-0.44},{"p":"e","b":"ed4","s":"w/o SOC","k":2.25,"E":-0.48},{"p":"e","b":"ed4","s":"w/o SOC","k":2.5,"E":-0.52},{"p":"e","b":"ed4","s":"w/o SOC","k":2.75,"E":-0.42},{"p":"e","b":"ed4","s":"w/o SOC","k":3,"E":-0.3},{"p":"e","b":"ed4","s":"w/o SOC","k":3.25,"E":-0.24},{"p":"e","b":"ed4","s":"w/o SOC","k":3.5,"E":-0.15},{"p":"e","b":"ed4","s":"w/o SOC","k":3.75,"E":-0.05},{"p":"e","b":"ed4","s":"w/o SOC","k":4,"E":0.05},{"p":"e","b":"ed4","s":"w/o SOC","k":4.25,"E":-0.1},{"p":"e","b":"ed4","s":"w/o SOC","k":4.5,"E":-0.25},{"p":"e","b":"ed4","s":"w/o SOC","k":4.75,"E":-0.22},{"p":"e","b":"ed4","s":"w/o SOC","k":5,"E":-0.22},{"p":"e","b":"ed4","s":"w/o SOC","k":5.25,"E":-0.28},{"p":"e","b":"ed4","s":"w/o SOC","k":5.5,"E":-0.37},{"p":"e","b":"ed4","s":"w/o SOC","k":5.75,"E":-0.46},{"p":"e","b":"ed4","s":"w/o SOC","k":6,"E":-0.52},{"p":"e","b":"ed4","s":"w/o SOC","k":6.25,"E":-0.42},{"p":"e","b":"ed4","s":"w/o SOC","k":6.5,"E":-0.4},{"p":"e","b":"ed4","s":"w/o SOC","k":6.75,"E":-0.2},{"p":"e","b":"ed4","s":"w/o SOC","k":7,"E":0.05},
{"p":"e","b":"ed5","s":"w/o SOC","k":0,"E":-0.3},{"p":"e","b":"ed5","s":"w/o SOC","k":0.25,"E":-0.45},{"p":"e","b":"ed5","s":"w/o SOC","k":0.5,"E":-0.65},{"p":"e","b":"ed5","s":"w/o SOC","k":0.75,"E":-0.8},{"p":"e","b":"ed5","s":"w/o SOC","k":1,"E":-0.85},{"p":"e","b":"ed5","s":"w/o SOC","k":1.25,"E":-0.78},{"p":"e","b":"ed5","s":"w/o SOC","k":1.5,"E":-0.66},{"p":"e","b":"ed5","s":"w/o SOC","k":1.75,"E":-0.56},{"p":"e","b":"ed5","s":"w/o SOC","k":2,"E":-0.46},{"p":"e","b":"ed5","s":"w/o SOC","k":2.25,"E":-0.52},{"p":"e","b":"ed5","s":"w/o SOC","k":2.5,"E":-0.58},{"p":"e","b":"ed5","s":"w/o SOC","k":2.75,"E":-0.45},{"p":"e","b":"ed5","s":"w/o SOC","k":3,"E":-0.3},{"p":"e","b":"ed5","s":"w/o SOC","k":3.25,"E":-0.22},{"p":"e","b":"ed5","s":"w/o SOC","k":3.5,"E":-0.12},{"p":"e","b":"ed5","s":"w/o SOC","k":3.75,"E":-0.04},{"p":"e","b":"ed5","s":"w/o SOC","k":4,"E":0.02},{"p":"e","b":"ed5","s":"w/o SOC","k":4.25,"E":-0.25},{"p":"e","b":"ed5","s":"w/o SOC","k":4.5,"E":-0.5},{"p":"e","b":"ed5","s":"w/o SOC","k":4.75,"E":-0.7},{"p":"e","b":"ed5","s":"w/o SOC","k":5,"E":-0.8},{"p":"e","b":"ed5","s":"w/o SOC","k":5.25,"E":-0.74},{"p":"e","b":"ed5","s":"w/o SOC","k":5.5,"E":-0.67},{"p":"e","b":"ed5","s":"w/o SOC","k":5.75,"E":-0.6},{"p":"e","b":"ed5","s":"w/o SOC","k":6,"E":-0.56},{"p":"e","b":"ed5","s":"w/o SOC","k":6.25,"E":-0.58},{"p":"e","b":"ed5","s":"w/o SOC","k":6.5,"E":-0.6},{"p":"e","b":"ed5","s":"w/o SOC","k":6.75,"E":-0.35},{"p":"e","b":"ed5","s":"w/o SOC","k":7,"E":0.02},
{"p":"e","b":"ed6","s":"w/o SOC","k":0,"E":-1.25},{"p":"e","b":"ed6","s":"w/o SOC","k":0.25,"E":-1.1},{"p":"e","b":"ed6","s":"w/o SOC","k":0.5,"E":-0.88},{"p":"e","b":"ed6","s":"w/o SOC","k":0.625,"E":-0.86},{"p":"e","b":"ed6","s":"w/o SOC","k":0.75,"E":-0.9},{"p":"e","b":"ed6","s":"w/o SOC","k":1,"E":-0.93},{"p":"e","b":"ed6","s":"w/o SOC","k":1.25,"E":-1.0},{"p":"e","b":"ed6","s":"w/o SOC","k":1.5,"E":-1.1},{"p":"e","b":"ed6","s":"w/o SOC","k":1.75,"E":-1.18},{"p":"e","b":"ed6","s":"w/o SOC","k":2,"E":-1.22},{"p":"e","b":"ed6","s":"w/o SOC","k":2.25,"E":-1.05},{"p":"e","b":"ed6","s":"w/o SOC","k":2.5,"E":-0.85},{"p":"e","b":"ed6","s":"w/o SOC","k":2.75,"E":-1.05},{"p":"e","b":"ed6","s":"w/o SOC","k":3,"E":-1.23},{"p":"e","b":"ed6","s":"w/o SOC","k":3.25,"E":-1.21},{"p":"e","b":"ed6","s":"w/o SOC","k":3.5,"E":-1.19},{"p":"e","b":"ed6","s":"w/o SOC","k":3.75,"E":-1.17},{"p":"e","b":"ed6","s":"w/o SOC","k":4,"E":-1.15},{"p":"e","b":"ed6","s":"w/o SOC","k":4.25,"E":-0.95},{"p":"e","b":"ed6","s":"w/o SOC","k":4.5,"E":-0.74},{"p":"e","b":"ed6","s":"w/o SOC","k":4.75,"E":-0.95},{"p":"e","b":"ed6","s":"w/o SOC","k":5,"E":-1.13},{"p":"e","b":"ed6","s":"w/o SOC","k":5.25,"E":-1.16},{"p":"e","b":"ed6","s":"w/o SOC","k":5.5,"E":-1.18},{"p":"e","b":"ed6","s":"w/o SOC","k":5.75,"E":-1.2},{"p":"e","b":"ed6","s":"w/o SOC","k":6,"E":-1.22},{"p":"e","b":"ed6","s":"w/o SOC","k":6.25,"E":-1.05},{"p":"e","b":"ed6","s":"w/o SOC","k":6.5,"E":-0.75},{"p":"e","b":"ed6","s":"w/o SOC","k":6.75,"E":-0.95},{"p":"e","b":"ed6","s":"w/o SOC","k":7,"E":-1.15},
{"p":"f","b":"f1","s":"SOC","k":0,"E":1.16},{"p":"f","b":"f1","s":"SOC","k":0.25,"E":1.13},{"p":"f","b":"f1","s":"SOC","k":0.5,"E":1.12},{"p":"f","b":"f1","s":"SOC","k":0.75,"E":1.15},{"p":"f","b":"f1","s":"SOC","k":1,"E":1.17},{"p":"f","b":"f1","s":"SOC","k":1.25,"E":1.22},{"p":"f","b":"f1","s":"SOC","k":1.5,"E":1.26},{"p":"f","b":"f1","s":"SOC","k":1.75,"E":1.28},{"p":"f","b":"f1","s":"SOC","k":2,"E":1.28},{"p":"f","b":"f1","s":"SOC","k":2.25,"E":1.24},{"p":"f","b":"f1","s":"SOC","k":2.5,"E":1.13},{"p":"f","b":"f1","s":"SOC","k":2.75,"E":1.14},{"p":"f","b":"f1","s":"SOC","k":3,"E":1.16},{"p":"f","b":"f1","s":"SOC","k":3.25,"E":1.06},{"p":"f","b":"f1","s":"SOC","k":3.5,"E":0.82},{"p":"f","b":"f1","s":"SOC","k":3.75,"E":0.6},{"p":"f","b":"f1","s":"SOC","k":4,"E":0.65},{"p":"f","b":"f1","s":"SOC","k":4.25,"E":0.82},{"p":"f","b":"f1","s":"SOC","k":4.5,"E":1.08},{"p":"f","b":"f1","s":"SOC","k":4.75,"E":1.27},{"p":"f","b":"f1","s":"SOC","k":5,"E":1.33},{"p":"f","b":"f1","s":"SOC","k":5.25,"E":1.32},{"p":"f","b":"f1","s":"SOC","k":5.5,"E":1.31},{"p":"f","b":"f1","s":"SOC","k":5.75,"E":1.28},{"p":"f","b":"f1","s":"SOC","k":6,"E":1.26},{"p":"f","b":"f1","s":"SOC","k":6.25,"E":1.27},{"p":"f","b":"f1","s":"SOC","k":6.5,"E":1.18},{"p":"f","b":"f1","s":"SOC","k":6.75,"E":0.88},{"p":"f","b":"f1","s":"SOC","k":7,"E":0.65},
{"p":"f","b":"f2","s":"SOC","k":0,"E":0.72},{"p":"f","b":"f2","s":"SOC","k":0.25,"E":0.72},{"p":"f","b":"f2","s":"SOC","k":0.5,"E":0.85},{"p":"f","b":"f2","s":"SOC","k":0.75,"E":1.0},{"p":"f","b":"f2","s":"SOC","k":1,"E":1.07},{"p":"f","b":"f2","s":"SOC","k":1.25,"E":1.02},{"p":"f","b":"f2","s":"SOC","k":1.5,"E":0.95},{"p":"f","b":"f2","s":"SOC","k":1.75,"E":0.97},{"p":"f","b":"f2","s":"SOC","k":2,"E":1.01},{"p":"f","b":"f2","s":"SOC","k":2.25,"E":0.93},{"p":"f","b":"f2","s":"SOC","k":2.5,"E":0.84},{"p":"f","b":"f2","s":"SOC","k":2.75,"E":0.74},{"p":"f","b":"f2","s":"SOC","k":3,"E":0.72},{"p":"f","b":"f2","s":"SOC","k":3.25,"E":0.6},{"p":"f","b":"f2","s":"SOC","k":3.5,"E":0.33},{"p":"f","b":"f2","s":"SOC","k":3.625,"E":0.4},{"p":"f","b":"f2","s":"SOC","k":3.75,"E":0.5},{"p":"f","b":"f2","s":"SOC","k":4,"E":0.48},{"p":"f","b":"f2","s":"SOC","k":4.25,"E":0.7},{"p":"f","b":"f2","s":"SOC","k":4.5,"E":1.0},{"p":"f","b":"f2","s":"SOC","k":4.75,"E":1.2},{"p":"f","b":"f2","s":"SOC","k":5,"E":1.24},{"p":"f","b":"f2","s":"SOC","k":5.25,"E":1.2},{"p":"f","b":"f2","s":"SOC","k":5.5,"E":1.12},{"p":"f","b":"f2","s":"SOC","k":5.75,"E":1.05},{"p":"f","b":"f2","s":"SOC","k":6,"E":1.01},{"p":"f","b":"f2","s":"SOC","k":6.25,"E":1.04},{"p":"f","b":"f2","s":"SOC","k":6.5,"E":0.95},{"p":"f","b":"f2","s":"SOC","k":6.75,"E":0.7},{"p":"f","b":"f2","s":"SOC","k":7,"E":0.48},
{"p":"f","b":"f3","s":"SOC","k":0,"E":0.25},{"p":"f","b":"f3","s":"SOC","k":0.25,"E":0.33},{"p":"f","b":"f3","s":"SOC","k":0.5,"E":0.4},{"p":"f","b":"f3","s":"SOC","k":0.75,"E":0.55},{"p":"f","b":"f3","s":"SOC","k":1,"E":0.59},{"p":"f","b":"f3","s":"SOC","k":1.25,"E":0.6},{"p":"f","b":"f3","s":"SOC","k":1.5,"E":0.62},{"p":"f","b":"f3","s":"SOC","k":1.75,"E":0.57},{"p":"f","b":"f3","s":"SOC","k":2,"E":0.53},{"p":"f","b":"f3","s":"SOC","k":2.25,"E":0.45},{"p":"f","b":"f3","s":"SOC","k":2.375,"E":0.23},{"p":"f","b":"f3","s":"SOC","k":2.5,"E":0.28},{"p":"f","b":"f3","s":"SOC","k":2.625,"E":0.3},{"p":"f","b":"f3","s":"SOC","k":2.75,"E":0.26},{"p":"f","b":"f3","s":"SOC","k":3,"E":0.25},{"p":"f","b":"f3","s":"SOC","k":3.25,"E":0.26},{"p":"f","b":"f3","s":"SOC","k":3.5,"E":0.28},{"p":"f","b":"f3","s":"SOC","k":3.75,"E":0.12},{"p":"f","b":"f3","s":"SOC","k":4,"E":0.03},{"p":"f","b":"f3","s":"SOC","k":4.25,"E":0.0},{"p":"f","b":"f3","s":"SOC","k":4.5,"E":-0.03},{"p":"f","b":"f3","s":"SOC","k":4.75,"E":-0.15},{"p":"f","b":"f3","s":"SOC","k":5,"E":-0.13},{"p":"f","b":"f3","s":"SOC","k":5.25,"E":0.05},{"p":"f","b":"f3","s":"SOC","k":5.5,"E":0.25},{"p":"f","b":"f3","s":"SOC","k":5.75,"E":0.37},{"p":"f","b":"f3","s":"SOC","k":6,"E":0.39},{"p":"f","b":"f3","s":"SOC","k":6.25,"E":0.3},{"p":"f","b":"f3","s":"SOC","k":6.5,"E":0.15},{"p":"f","b":"f3","s":"SOC","k":6.75,"E":0.03},{"p":"f","b":"f3","s":"SOC","k":7,"E":0.02},
{"p":"f","b":"f4","s":"SOC","k":0,"E":-0.17},{"p":"f","b":"f4","s":"SOC","k":0.25,"E":-0.14},{"p":"f","b":"f4","s":"SOC","k":0.5,"E":-0.06},{"p":"f","b":"f4","s":"SOC","k":0.75,"E":0.0},{"p":"f","b":"f4","s":"SOC","k":1,"E":0.0},{"p":"f","b":"f4","s":"SOC","k":1.25,"E":-0.05},{"p":"f","b":"f4","s":"SOC","k":1.5,"E":-0.18},{"p":"f","b":"f4","s":"SOC","k":1.75,"E":-0.3},{"p":"f","b":"f4","s":"SOC","k":2,"E":-0.34},{"p":"f","b":"f4","s":"SOC","k":2.25,"E":-0.18},{"p":"f","b":"f4","s":"SOC","k":2.5,"E":0.08},{"p":"f","b":"f4","s":"SOC","k":2.75,"E":-0.12},{"p":"f","b":"f4","s":"SOC","k":3,"E":-0.17},{"p":"f","b":"f4","s":"SOC","k":3.25,"E":-0.05},{"p":"f","b":"f4","s":"SOC","k":3.5,"E":0.17},{"p":"f","b":"f4","s":"SOC","k":3.75,"E":0.05},{"p":"f","b":"f4","s":"SOC","k":4,"E":-0.02},{"p":"f","b":"f4","s":"SOC","k":4.25,"E":-0.05},{"p":"f","b":"f4","s":"SOC","k":4.5,"E":-0.12},{"p":"f","b":"f4","s":"SOC","k":4.75,"E":-0.22},{"p":"f","b":"f4","s":"SOC","k":5,"E":-0.38},{"p":"f","b":"f4","s":"SOC","k":5.25,"E":-0.43},{"p":"f","b":"f4","s":"SOC","k":5.5,"E":-0.42},{"p":"f","b":"f4","s":"SOC","k":5.75,"E":-0.38},{"p":"f","b":"f4","s":"SOC","k":6,"E":-0.36},{"p":"f","b":"f4","s":"SOC","k":6.25,"E":-0.38},{"p":"f","b":"f4","s":"SOC","k":6.5,"E":-0.28},{"p":"f","b":"f4","s":"SOC","k":6.75,"E":-0.12},{"p":"f","b":"f4","s":"SOC","k":7,"E":-0.02},
{"p":"f","b":"f5","s":"SOC","k":0,"E":-0.51},{"p":"f","b":"f5","s":"SOC","k":0.25,"E":-0.45},{"p":"f","b":"f5","s":"SOC","k":0.375,"E":-0.44},{"p":"f","b":"f5","s":"SOC","k":0.5,"E":-0.52},{"p":"f","b":"f5","s":"SOC","k":0.75,"E":-0.8},{"p":"f","b":"f5","s":"SOC","k":1,"E":-1.07},{"p":"f","b":"f5","s":"SOC","k":1.25,"E":-1.02},{"p":"f","b":"f5","s":"SOC","k":1.5,"E":-0.96},{"p":"f","b":"f5","s":"SOC","k":1.75,"E":-0.9},{"p":"f","b":"f5","s":"SOC","k":2,"E":-0.83},{"p":"f","b":"f5","s":"SOC","k":2.25,"E":-0.68},{"p":"f","b":"f5","s":"SOC","k":2.5,"E":-0.53},{"p":"f","b":"f5","s":"SOC","k":2.75,"E":-0.46},{"p":"f","b":"f5","s":"SOC","k":3,"E":-0.51},{"p":"f","b":"f5","s":"SOC","k":3.25,"E":-0.4},{"p":"f","b":"f5","s":"SOC","k":3.5,"E":-0.27},{"p":"f","b":"f5","s":"SOC","k":3.75,"E":-0.18},{"p":"f","b":"f5","s":"SOC","k":4,"E":-0.14},{"p":"f","b":"f5","s":"SOC","k":4.25,"E":-0.17},{"p":"f","b":"f5","s":"SOC","k":4.5,"E":-0.22},{"p":"f","b":"f5","s":"SOC","k":4.75,"E":-0.38},{"p":"f","b":"f5","s":"SOC","k":5,"E":-0.45},{"p":"f","b":"f5","s":"SOC","k":5.25,"E":-0.6},{"p":"f","b":"f5","s":"SOC","k":5.5,"E":-0.75},{"p":"f","b":"f5","s":"SOC","k":5.75,"E":-0.83},{"p":"f","b":"f5","s":"SOC","k":6,"E":-0.85},{"p":"f","b":"f5","s":"SOC","k":6.25,"E":-0.72},{"p":"f","b":"f5","s":"SOC","k":6.5,"E":-0.55},{"p":"f","b":"f5","s":"SOC","k":6.75,"E":-0.49},{"p":"f","b":"f5","s":"SOC","k":7,"E":-0.48},
{"p":"f","b":"f6","s":"SOC","k":0,"E":-1.03},{"p":"f","b":"f6","s":"SOC","k":0.25,"E":-1.0},{"p":"f","b":"f6","s":"SOC","k":0.5,"E":-1.07},{"p":"f","b":"f6","s":"SOC","k":0.75,"E":-1.19},{"p":"f","b":"f6","s":"SOC","k":1,"E":-1.08},{"p":"f","b":"f6","s":"SOC","k":1.25,"E":-1.0},{"p":"f","b":"f6","s":"SOC","k":1.5,"E":-0.9},{"p":"f","b":"f6","s":"SOC","k":1.75,"E":-0.82},{"p":"f","b":"f6","s":"SOC","k":2,"E":-0.84},{"p":"f","b":"f6","s":"SOC","k":2.25,"E":-1.02},{"p":"f","b":"f6","s":"SOC","k":2.375,"E":-1.09},{"p":"f","b":"f6","s":"SOC","k":2.5,"E":-1.05},{"p":"f","b":"f6","s":"SOC","k":2.75,"E":-1.0},{"p":"f","b":"f6","s":"SOC","k":3,"E":-1.03},{"p":"f","b":"f6","s":"SOC","k":3.25,"E":-0.6},{"p":"f","b":"f6","s":"SOC","k":3.5,"E":-0.36},{"p":"f","b":"f6","s":"SOC","k":3.75,"E":-0.42},{"p":"f","b":"f6","s":"SOC","k":4,"E":-0.48},{"p":"f","b":"f6","s":"SOC","k":4.25,"E":-0.5},{"p":"f","b":"f6","s":"SOC","k":4.5,"E":-0.6},{"p":"f","b":"f6","s":"SOC","k":4.75,"E":-0.85},{"p":"f","b":"f6","s":"SOC","k":5,"E":-1.01},{"p":"f","b":"f6","s":"SOC","k":5.25,"E":-1.0},{"p":"f","b":"f6","s":"SOC","k":5.5,"E":-0.97},{"p":"f","b":"f6","s":"SOC","k":5.75,"E":-0.98},{"p":"f","b":"f6","s":"SOC","k":6,"E":-1.01},{"p":"f","b":"f6","s":"SOC","k":6.25,"E":-0.9},{"p":"f","b":"f6","s":"SOC","k":6.5,"E":-0.7},{"p":"f","b":"f6","s":"SOC","k":6.75,"E":-0.55},{"p":"f","b":"f6","s":"SOC","k":7,"E":-0.48}
 ]
},
"resolve":{"scale":{"color":"independent","strokeDash":"independent"},"legend":{"color":"independent","strokeDash":"independent"}},
"columns":2,
"spacing":{"row":5,"column":10},
"concat":[
 {"title":"(a)","width":323,"height":213,
  "layer":[
   {"data":{"name":"sym"},"mark":{"type":"rule","color":"#8c8c8c","strokeWidth":1},"encoding":{"x":{"field":"k","type":"quantitative","scale":{"domain":[0,7],"nice":false},"axis":{"orient":"top","labels":false,"title":null,"values":[0,0.5,1,1.5,2,2.5,3,3.5,4,4.5,5,5.5,6,6.5,7]}}}},
   {"data":{"values":[{"E":0}]},"mark":{"type":"rule","color":"#8c8c8c","strokeDash":[6,4],"strokeWidth":1},"encoding":{"y":{"field":"E","type":"quantitative","scale":{"domain":[-1.5,1.25],"nice":false,"zero":false},"axis":{"orient":"right","labels":false,"title":null,"values":[-1.5,-1.25,-1,-0.75,-0.5,-0.25,0,0.25,0.5,0.75,1,1.25]}}}},
   {"data":{"name":"bands"},"transform":[{"filter":"datum.p=='a' && datum.s!='SOC'"}],"mark":{"type":"line","interpolate":"monotone","strokeWidth":1},
    "encoding":{"x":{"field":"k","type":"quantitative","scale":{"domain":[0,7],"nice":false},"axis":{"orient":"bottom","title":null,"values":[0,0.5,1,1.5,2,2.5,3,3.5,4,4.5,5,5.5,6,6.5,7],"labelExpr":"datum.value%1==0 ? ['Γ','M','K','Γ','A','L','H','A'][datum.value] : ''"}},
     "y":{"field":"E","type":"quantitative","scale":{"domain":[-1.5,1.25],"nice":false,"zero":false},"axis":{"orient":"left","title":"E (eV)","values":[-1.5,-1.25,-1,-0.75,-0.5,-0.25,0,0.25,0.5,0.75,1,1.25],"labelExpr":"abs(datum.value*2-round(datum.value*2))<0.01 ? replace(format(datum.value,'.1f'),'\u2212','-') : ''"}},
     "detail":{"field":"b"},
     "color":{"field":"s","type":"nominal","scale":{"domain":["SOC","w/o SOC"],"range":["#000000","#8a8a8a"]},"legend":{"orient":"none","legendX":127,"legendY":5,"title":null,"symbolType":"M-2,0L2,0","symbolSize":72,"symbolStrokeWidth":1.2,"labelFont":"Liberation Serif","labelFontSize":13,"labelColor":"black","strokeColor":"#9a9a9a","fillColor":"white","padding":3,"rowPadding":0,"labelOffset":13}},
     "strokeDash":{"field":"s","type":"nominal","scale":{"domain":["SOC","w/o SOC"],"range":[[1,0],[2,1.5]]},"legend":{"orient":"none","legendX":127,"legendY":5,"title":null,"symbolType":"M-2,0L2,0","symbolSize":72,"symbolStrokeWidth":1.2,"labelFont":"Liberation Serif","labelFontSize":13,"labelColor":"black","strokeColor":"#9a9a9a","fillColor":"white","padding":3,"rowPadding":0,"labelOffset":13}}}},
   {"data":{"name":"bands"},"transform":[{"filter":"datum.p=='a' && datum.s=='SOC'"}],"mark":{"type":"line","interpolate":"monotone","strokeWidth":1.2},
    "encoding":{"x":{"field":"k","type":"quantitative","scale":{"domain":[0,7],"nice":false},"axis":null},"y":{"field":"E","type":"quantitative","scale":{"domain":[-1.5,1.25],"nice":false,"zero":false},"axis":null},"detail":{"field":"b"},
     "color":{"field":"s","type":"nominal","scale":{"domain":["SOC","w/o SOC"],"range":["#000000","#8a8a8a"]}},
     "strokeDash":{"field":"s","type":"nominal","scale":{"domain":["SOC","w/o SOC"],"range":[[1,0],[2,1.5]]}}}}
  ],
  "resolve":{"axis":{"x":"independent","y":"independent"}}},
 {"title":"(d)","width":322,"height":213,
  "layer":[
   {"data":{"name":"sym"},"mark":{"type":"rule","color":"#8c8c8c","strokeWidth":1},"encoding":{"x":{"field":"k","type":"quantitative","scale":{"domain":[0,7],"nice":false},"axis":{"orient":"top","labels":false,"title":null,"values":[0,0.5,1,1.5,2,2.5,3,3.5,4,4.5,5,5.5,6,6.5,7]}}}},
   {"data":{"values":[{"E":0}]},"mark":{"type":"rule","color":"#8c8c8c","strokeDash":[6,4],"strokeWidth":1},"encoding":{"y":{"field":"E","type":"quantitative","scale":{"domain":[-1,1.25],"nice":false,"zero":false},"axis":{"orient":"right","labels":false,"title":null,"values":[-1,-0.75,-0.5,-0.25,0,0.25,0.5,0.75,1,1.25]}}}},
   {"data":{"name":"bands"},"transform":[{"filter":"datum.p=='d'"}],"mark":{"type":"line","interpolate":"monotone","strokeWidth":1.2,"color":"black"},
    "encoding":{"x":{"field":"k","type":"quantitative","scale":{"domain":[0,7],"nice":false},"axis":{"orient":"bottom","title":null,"values":[0,0.5,1,1.5,2,2.5,3,3.5,4,4.5,5,5.5,6,6.5,7],"labelExpr":"datum.value%1==0 ? ['Γ','M','K','Γ','A','L','H','A'][datum.value] : ''"}},
     "y":{"field":"E","type":"quantitative","scale":{"domain":[-1,1.25],"nice":false,"zero":false},"axis":{"orient":"left","title":"E (eV)","values":[-1,-0.75,-0.5,-0.25,0,0.25,0.5,0.75,1,1.25],"labelExpr":"abs(datum.value*2-round(datum.value*2))<0.01 ? replace(format(datum.value,'.1f'),'\u2212','-') : ''"}},
     "detail":{"field":"b"}}}
  ],
  "resolve":{"axis":{"x":"independent","y":"independent"}}},
 {"title":"(b)","width":323,"height":213,
  "layer":[
   {"data":{"name":"sym"},"mark":{"type":"rule","color":"#8c8c8c","strokeWidth":1},"encoding":{"x":{"field":"k","type":"quantitative","scale":{"domain":[0,7],"nice":false},"axis":{"orient":"top","labels":false,"title":null,"values":[0,0.5,1,1.5,2,2.5,3,3.5,4,4.5,5,5.5,6,6.5,7]}}}},
   {"data":{"values":[{"E":0}]},"mark":{"type":"rule","color":"#8c8c8c","strokeDash":[6,4],"strokeWidth":1},"encoding":{"y":{"field":"E","type":"quantitative","scale":{"domain":[-1.75,1.25],"nice":false,"zero":false},"axis":{"orient":"right","labels":false,"title":null,"values":[-1.75,-1.5,-1.25,-1,-0.75,-0.5,-0.25,0,0.25,0.5,0.75,1,1.25]}}}},
   {"data":{"name":"bands"},"transform":[{"filter":"datum.p=='b'"}],"mark":{"type":"line","interpolate":"monotone","strokeWidth":1.2,"color":"black"},
    "encoding":{"x":{"field":"k","type":"quantitative","scale":{"domain":[0,7],"nice":false},"axis":{"orient":"bottom","title":null,"values":[0,0.5,1,1.5,2,2.5,3,3.5,4,4.5,5,5.5,6,6.5,7],"labelExpr":"datum.value%1==0 ? ['Γ','M','K','Γ','A','L','H','A'][datum.value] : ''"}},
     "y":{"field":"E","type":"quantitative","scale":{"domain":[-1.75,1.25],"nice":false,"zero":false},"axis":{"orient":"left","title":"E (eV)","values":[-1.75,-1.5,-1.25,-1,-0.75,-0.5,-0.25,0,0.25,0.5,0.75,1,1.25],"labelExpr":"abs(datum.value*2-round(datum.value*2))<0.01 ? replace(format(datum.value,'.1f'),'\u2212','-') : ''"}},
     "detail":{"field":"b"}}}
  ],
  "resolve":{"axis":{"x":"independent","y":"independent"}}},
 {"title":"(e)","width":322,"height":213,
  "layer":[
   {"data":{"name":"sym"},"mark":{"type":"rule","color":"#8c8c8c","strokeWidth":1},"encoding":{"x":{"field":"k","type":"quantitative","scale":{"domain":[0,7],"nice":false},"axis":{"orient":"top","labels":false,"title":null,"values":[0,0.5,1,1.5,2,2.5,3,3.5,4,4.5,5,5.5,6,6.5,7]}}}},
   {"data":{"values":[{"E":0}]},"mark":{"type":"rule","color":"#8c8c8c","strokeDash":[6,4],"strokeWidth":1},"encoding":{"y":{"field":"E","type":"quantitative","scale":{"domain":[-1.5,1.5],"nice":false,"zero":false},"axis":{"orient":"right","labels":false,"title":null,"values":[-1.5,-1.25,-1,-0.75,-0.5,-0.25,0,0.25,0.5,0.75,1,1.25,1.5]}}}},
   {"data":{"name":"bands"},"transform":[{"filter":"datum.p=='e' && datum.s!='SOC'"}],"mark":{"type":"line","interpolate":"monotone","strokeWidth":1,"color":"#8a8a8a","strokeDash":[2,1.5]},
    "encoding":{"x":{"field":"k","type":"quantitative","scale":{"domain":[0,7],"nice":false},"axis":{"orient":"bottom","title":null,"values":[0,0.5,1,1.5,2,2.5,3,3.5,4,4.5,5,5.5,6,6.5,7],"labelExpr":"datum.value%1==0 ? ['Γ','M','K','Γ','A','L','H','A'][datum.value] : ''"}},
     "y":{"field":"E","type":"quantitative","scale":{"domain":[-1.5,1.5],"nice":false,"zero":false},"axis":{"orient":"left","title":"E (eV)","values":[-1.5,-1.25,-1,-0.75,-0.5,-0.25,0,0.25,0.5,0.75,1,1.25,1.5],"labelExpr":"abs(datum.value*2-round(datum.value*2))<0.01 ? replace(format(datum.value,'.1f'),'\u2212','-') : ''"}},
     "detail":{"field":"b"}}},
   {"data":{"name":"bands"},"transform":[{"filter":"datum.p=='e' && datum.s=='SOC'"}],"mark":{"type":"line","interpolate":"monotone","strokeWidth":1.2,"color":"black"},
    "encoding":{"x":{"field":"k","type":"quantitative","scale":{"domain":[0,7],"nice":false},"axis":null},"y":{"field":"E","type":"quantitative","scale":{"domain":[-1.5,1.5],"nice":false,"zero":false},"axis":null},"detail":{"field":"b"}}}
  ],
  "resolve":{"axis":{"x":"independent","y":"independent"}}},
 {"title":"(c)","width":323,"height":213,
  "layer":[
   {"data":{"name":"sym"},"mark":{"type":"rule","color":"#8c8c8c","strokeWidth":1},"encoding":{"x":{"field":"k","type":"quantitative","scale":{"domain":[0,7],"nice":false},"axis":{"orient":"top","labels":false,"title":null,"values":[0,0.5,1,1.5,2,2.5,3,3.5,4,4.5,5,5.5,6,6.5,7]}}}},
   {"data":{"values":[{"E":0}]},"mark":{"type":"rule","color":"#8c8c8c","strokeDash":[6,4],"strokeWidth":1},"encoding":{"y":{"field":"E","type":"quantitative","scale":{"domain":[-1.25,1.5],"nice":false,"zero":false},"axis":{"orient":"right","labels":false,"title":null,"values":[-1.25,-1,-0.75,-0.5,-0.25,0,0.25,0.5,0.75,1,1.25,1.5]}}}},
   {"data":{"name":"bands"},"transform":[{"filter":"datum.p=='c'"}],"mark":{"type":"line","interpolate":"monotone","strokeWidth":1.2,"color":"black"},
    "encoding":{"x":{"field":"k","type":"quantitative","scale":{"domain":[0,7],"nice":false},"axis":{"orient":"bottom","title":null,"values":[0,0.5,1,1.5,2,2.5,3,3.5,4,4.5,5,5.5,6,6.5,7],"labelExpr":"datum.value%1==0 ? ['Γ','M','K','Γ','A','L','H','A'][datum.value] : ''"}},
     "y":{"field":"E","type":"quantitative","scale":{"domain":[-1.25,1.5],"nice":false,"zero":false},"axis":{"orient":"left","title":"E (eV)","values":[-1.25,-1,-0.75,-0.5,-0.25,0,0.25,0.5,0.75,1,1.25,1.5],"labelExpr":"abs(datum.value*2-round(datum.value*2))<0.01 ? replace(format(datum.value,'.1f'),'\u2212','-') : ''"}},
     "detail":{"field":"b"}}}
  ],
  "resolve":{"axis":{"x":"independent","y":"independent"}}},
 {"title":"(f)","width":322,"height":213,
  "layer":[
   {"data":{"name":"sym"},"mark":{"type":"rule","color":"#8c8c8c","strokeWidth":1},"encoding":{"x":{"field":"k","type":"quantitative","scale":{"domain":[0,7],"nice":false},"axis":{"orient":"top","labels":false,"title":null,"values":[0,0.5,1,1.5,2,2.5,3,3.5,4,4.5,5,5.5,6,6.5,7]}}}},
   {"data":{"values":[{"E":0}]},"mark":{"type":"rule","color":"#8c8c8c","strokeDash":[6,4],"strokeWidth":1},"encoding":{"y":{"field":"E","type":"quantitative","scale":{"domain":[-1.25,1.5],"nice":false,"zero":false},"axis":{"orient":"right","labels":false,"title":null,"values":[-1.25,-1,-0.75,-0.5,-0.25,0,0.25,0.5,0.75,1,1.25,1.5]}}}},
   {"data":{"name":"bands"},"transform":[{"filter":"datum.p=='f'"}],"mark":{"type":"line","interpolate":"monotone","strokeWidth":1.2,"color":"black"},
    "encoding":{"x":{"field":"k","type":"quantitative","scale":{"domain":[0,7],"nice":false},"axis":{"orient":"bottom","title":null,"values":[0,0.5,1,1.5,2,2.5,3,3.5,4,4.5,5,5.5,6,6.5,7],"labelExpr":"datum.value%1==0 ? ['Γ','M','K','Γ','A','L','H','A'][datum.value] : ''"}},
     "y":{"field":"E","type":"quantitative","scale":{"domain":[-1.25,1.5],"nice":false,"zero":false},"axis":{"orient":"left","title":"E (eV)","values":[-1.25,-1,-0.75,-0.5,-0.25,0,0.25,0.5,0.75,1,1.25,1.5],"labelExpr":"abs(datum.value*2-round(datum.value*2))<0.01 ? replace(format(datum.value,'.1f'),'\u2212','-') : ''"}},
     "detail":{"field":"b"}}}
  ],
  "resolve":{"axis":{"x":"independent","y":"independent"}}}
]
}
